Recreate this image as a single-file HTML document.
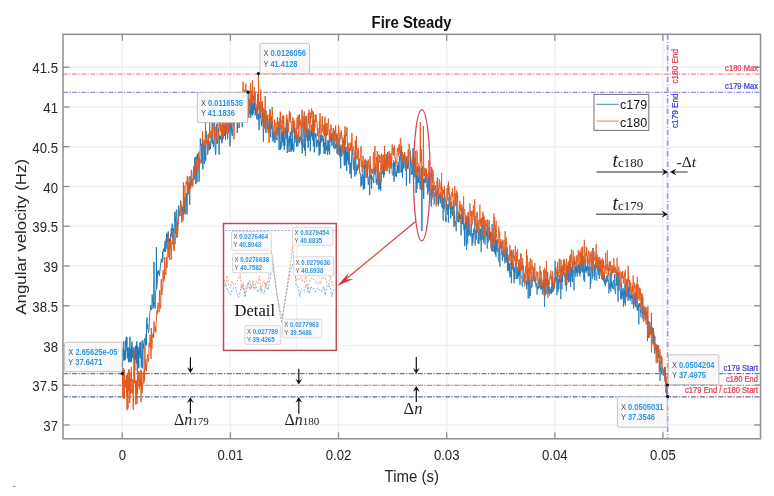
<!DOCTYPE html>
<html><head><meta charset="utf-8"><style>html,body{margin:0;padding:0;background:#fff;overflow:hidden}svg{display:block;filter:blur(0.4px)}</style></head><body>
<svg width="774" height="496" viewBox="0 0 774 496" font-family="Liberation Sans, sans-serif">
<rect width="774" height="496" fill="#fff"/>
<g stroke="#f0f0f0" stroke-width="1.4"><line x1="122.3" y1="34.3" x2="122.3" y2="438.8"/><line x1="230.4" y1="34.3" x2="230.4" y2="438.8"/><line x1="338.5" y1="34.3" x2="338.5" y2="438.8"/><line x1="446.7" y1="34.3" x2="446.7" y2="438.8"/><line x1="554.8" y1="34.3" x2="554.8" y2="438.8"/><line x1="662.9" y1="34.3" x2="662.9" y2="438.8"/><line x1="63.0" y1="425.0" x2="760.5" y2="425.0"/><line x1="63.0" y1="385.2" x2="760.5" y2="385.2"/><line x1="63.0" y1="345.5" x2="760.5" y2="345.5"/><line x1="63.0" y1="305.7" x2="760.5" y2="305.7"/><line x1="63.0" y1="266.0" x2="760.5" y2="266.0"/><line x1="63.0" y1="226.2" x2="760.5" y2="226.2"/><line x1="63.0" y1="186.5" x2="760.5" y2="186.5"/><line x1="63.0" y1="146.7" x2="760.5" y2="146.7"/><line x1="63.0" y1="107.0" x2="760.5" y2="107.0"/><line x1="63.0" y1="67.2" x2="760.5" y2="67.2"/></g>
<line x1="63.0" y1="74.1" x2="760.5" y2="74.1" stroke="#e0949a" stroke-width="1.25" stroke-dasharray="5 1.3 1.3 1.5"/>
<line x1="63.0" y1="92.4" x2="760.5" y2="92.4" stroke="#948cec" stroke-width="1.25" stroke-dasharray="5 1.3 1.3 1.5"/>
<line x1="63.0" y1="373.5" x2="760.5" y2="373.5" stroke="#6c6cb8" stroke-width="1.25" stroke-dasharray="5 1.3 1.3 1.5"/>
<line x1="63.0" y1="385.4" x2="760.5" y2="385.4" stroke="#d88c8c" stroke-width="1.25" stroke-dasharray="5 1.3 1.3 1.5"/>
<line x1="63.0" y1="396.8" x2="760.5" y2="396.8" stroke="#6464aa" stroke-width="1.25" stroke-dasharray="5 1.3 1.3 1.5"/>
<path d="M122.3 373.6L122.5 363.3 122.6 365.8 122.8 353.6 123.0 351.0 123.1 348.3 123.3 355.6 123.5 353.5 123.6 358.8 123.8 341.2 124.0 360.6 124.1 354.9 124.3 358.8 124.5 354.0 124.6 350.5 124.8 355.6 125.0 360.1 125.1 354.0 125.3 352.2 125.5 357.9 125.6 348.2 125.8 340.0 126.0 351.4 126.1 347.4 126.3 336.7 126.5 341.2 126.6 345.4 126.8 341.4 127.0 337.7 127.1 347.9 127.3 358.0 127.5 353.0 127.6 347.4 127.8 353.9 128.0 358.7 128.1 352.7 128.3 357.0 128.5 362.2 128.6 354.7 128.8 347.5 129.0 353.7 129.1 355.1 129.3 362.0 129.5 346.5 129.6 345.8 129.8 344.2 130.0 336.9 130.1 348.3 130.3 355.3 130.5 348.3 130.6 361.7 130.8 362.2 131.0 360.9 131.1 358.8 131.3 362.2 131.5 346.2 131.6 355.2 131.8 358.3 132.0 341.6 132.1 351.6 132.3 350.6 132.5 358.0 132.6 351.5 132.8 352.3 133.0 355.3 133.1 347.3 133.3 355.5 133.5 353.1 133.6 356.7 133.8 350.4 134.0 360.2 134.1 360.1 134.3 354.1 134.5 362.1 134.6 364.2 134.8 370.4 135.0 347.3 135.1 357.6 135.3 358.1 135.5 354.1 135.6 345.8 135.8 359.9 136.0 346.0 136.1 354.8 136.3 363.4 136.5 344.6 136.6 347.8 136.8 341.4 137.0 350.8 137.1 363.6 137.3 371.9 137.5 346.3 137.6 346.3 137.8 355.9 138.0 365.9 138.1 364.6 138.3 350.1 138.5 354.2 138.6 353.3 138.8 368.2 139.0 347.2 139.1 353.7 139.3 355.3 139.5 352.8 139.7 351.0 139.8 342.7 140.0 345.4 140.2 358.2 140.4 352.7 140.6 342.0 140.9 357.4 141.1 357.0 141.3 367.5 141.6 357.1 141.9 349.8 142.2 340.5 142.5 355.5 142.8 368.6 143.1 349.9 143.4 343.6 143.7 348.4 144.0 340.1 144.3 339.9 144.6 338.4 144.9 340.3 145.2 345.5 145.5 339.9 145.8 342.5 146.1 334.3 146.4 345.3 146.7 319.6 147.0 317.4 147.3 329.2 147.6 324.1 147.9 328.5 148.2 328.8 148.5 332.7 148.8 330.1 149.1 329.5 149.4 321.6 149.7 314.5 150.0 310.9 150.3 310.2 150.7 305.2 151.0 306.0 151.3 308.1 151.6 309.9 151.9 306.1 152.2 294.6 152.5 300.6 152.8 303.4 153.1 308.4 153.4 306.2 153.7 297.3 154.0 262.0 154.3 306.0 154.6 302.4 154.9 306.4 155.2 308.5 155.5 291.2 155.8 291.1 156.1 290.5 156.4 247.0 156.7 288.6 157.0 285.2 157.3 282.9 157.6 271.5 157.9 274.2 158.2 270.8 158.5 273.6 158.8 270.3 159.1 274.2 159.4 275.8 159.7 272.4 160.0 270.3 160.3 267.3 160.7 262.5 161.0 261.8 161.3 258.9 161.6 262.2 161.9 260.6 162.2 262.5 162.5 251.7 162.8 259.7 163.1 252.5 163.4 249.4 163.7 250.7 164.0 248.3 164.3 251.6 164.6 247.2 164.9 242.1 165.2 240.9 165.5 252.0 165.8 248.0 166.1 239.0 166.4 241.9 166.7 233.2 167.0 248.6 167.3 234.3 167.6 240.3 167.9 242.4 168.2 231.4 168.5 237.2 168.8 242.8 169.1 241.3 169.4 239.2 169.7 242.0 170.0 238.1 170.3 248.4 170.7 234.0 171.0 236.8 171.3 228.4 171.6 235.0 171.9 229.5 172.2 223.7 172.5 229.7 172.8 239.1 173.1 237.8 173.4 228.4 173.7 231.7 174.0 244.9 174.3 225.3 174.6 225.9 174.9 211.8 175.2 221.0 175.5 216.8 175.8 233.6 176.1 211.9 176.4 209.6 176.7 211.5 177.0 237.7 177.3 229.9 177.6 222.3 177.9 225.6 178.2 218.4 178.5 205.6 178.8 212.7 179.1 216.3 179.4 212.0 179.7 214.2 180.0 216.0 180.3 207.7 180.7 200.6 181.0 205.0 181.3 206.0 181.6 205.0 181.9 212.0 182.2 218.2 182.5 207.3 182.8 209.5 183.1 211.1 183.4 209.8 183.7 210.8 184.0 202.1 184.3 205.2 184.6 213.3 184.9 208.4 185.2 197.7 185.5 200.7 185.8 205.0 186.1 200.7 186.4 193.1 186.7 202.4 187.0 214.4 187.3 193.6 187.6 191.7 187.9 183.5 188.2 194.4 188.5 192.5 188.8 182.2 189.1 188.6 189.4 184.2 189.7 204.8 190.0 176.0 190.3 182.1 190.7 185.9 191.0 183.8 191.3 181.8 191.6 183.0 191.9 178.8 192.2 185.0 192.5 180.4 192.8 179.1 193.1 179.5 193.4 169.5 193.7 167.5 194.0 179.7 194.3 176.1 194.6 157.7 194.9 171.8 195.2 166.7 195.5 168.9 195.8 184.1 196.1 167.0 196.4 156.6 196.7 170.0 197.0 182.5 197.3 153.7 197.6 158.2 197.9 158.4 198.2 161.2 198.5 153.9 198.8 160.2 199.1 181.6 199.4 158.8 199.7 160.2 200.0 156.3 200.3 138.4 200.7 145.3 201.0 144.6 201.3 143.9 201.6 153.4 201.9 163.1 202.2 151.7 202.5 138.8 202.8 169.3 203.1 152.2 203.4 144.9 203.7 147.2 204.0 147.4 204.3 164.0 204.6 149.5 204.9 142.5 205.2 145.5 205.5 161.0 205.8 161.2 206.1 131.0 206.4 137.5 206.7 134.8 207.0 143.2 207.3 141.2 207.6 153.5 207.9 151.5 208.2 150.6 208.5 145.8 208.8 142.7 209.1 144.0 209.4 150.2 209.7 147.7 210.0 141.3 210.3 149.0 210.7 145.0 211.0 141.9 211.3 136.3 211.6 135.7 211.9 135.0 212.2 121.4 212.5 140.2 212.8 143.9 213.1 140.3 213.4 146.8 213.7 145.3 214.0 144.3 214.3 126.2 214.6 123.5 214.9 141.1 215.2 150.2 215.5 154.7 215.8 153.5 216.1 136.7 216.4 124.2 216.7 136.9 217.0 137.8 217.3 143.8 217.6 138.9 217.9 139.2 218.2 128.3 218.5 136.6 218.8 133.7 219.1 154.7 219.4 139.3 219.7 136.2 220.0 137.6 220.3 135.8 220.7 139.9 221.0 139.5 221.3 132.6 221.6 129.8 221.9 143.3 222.2 136.2 222.5 140.5 222.8 138.0 223.1 130.9 223.4 127.1 223.7 131.1 224.0 133.1 224.3 136.0 224.6 124.9 224.9 125.1 225.2 128.1 225.5 139.7 225.8 118.6 226.1 128.7 226.4 125.8 226.7 130.8 227.0 126.5 227.3 130.3 227.6 139.1 227.9 134.3 228.2 132.9 228.5 131.9 228.8 124.2 229.1 129.6 229.4 126.5 229.7 121.4 230.0 146.3 230.3 124.0 230.7 130.0 231.0 126.8 231.3 122.4 231.6 133.3 231.9 134.0 232.2 135.9 232.5 132.1 232.8 126.1 233.1 121.8 233.4 121.0 233.7 108.8 234.0 125.5 234.3 114.0 234.6 119.1 234.9 111.9 235.2 113.8 235.5 112.7 235.8 109.7 236.1 117.3 236.4 118.4 236.7 108.4 237.0 120.1 237.3 133.0 237.6 113.8 237.9 128.0 238.2 116.6 238.5 113.6 238.8 114.3 239.1 106.0 239.4 120.6 239.7 96.1 240.0 111.8 240.3 111.6 240.7 103.3 241.0 107.6 241.3 122.5 241.6 103.1 241.9 106.2 242.2 127.2 242.5 117.9 242.8 122.1 243.1 111.6 243.4 105.8 243.7 111.2 244.0 107.5 244.3 106.3 244.6 114.7 244.9 121.3 245.2 114.3 245.5 108.9 245.8 112.0 246.1 97.0 246.4 103.9 246.7 99.5 247.0 120.5 247.3 116.9 247.6 111.8 247.9 92.2 248.2 91.2 248.5 106.5 248.8 117.8 249.1 106.3 249.4 111.5 249.7 113.6 250.0 99.4 250.3 111.0 250.7 117.9 251.0 113.1 251.3 90.5 251.6 114.2 251.9 100.7 252.2 106.8 252.5 115.4 252.8 103.5 253.1 114.2 253.4 108.8 253.7 96.1 254.0 104.8 254.3 102.3 254.6 110.1 254.9 103.2 255.2 115.5 255.5 108.2 255.8 113.0 256.1 108.6 256.4 108.9 256.7 119.2 257.0 116.5 257.3 111.7 257.6 94.0 257.9 118.0 258.2 120.2 258.5 114.2 258.8 116.1 259.1 130.2 259.4 106.4 259.7 107.1 260.0 115.3 260.3 118.0 260.7 112.4 261.0 120.4 261.3 123.7 261.6 121.1 261.9 126.1 262.2 101.8 262.5 118.5 262.8 122.2 263.1 120.4 263.4 141.5 263.7 114.1 264.0 127.9 264.3 118.5 264.6 119.5 264.9 112.1 265.2 122.7 265.5 131.1 265.8 132.9 266.1 132.3 266.4 116.6 266.7 116.4 267.0 118.7 267.3 116.6 267.6 129.6 267.9 128.3 268.2 126.7 268.5 129.7 268.8 121.6 269.1 119.2 269.4 118.8 269.7 128.0 270.0 109.3 270.3 133.0 270.7 137.4 271.0 123.2 271.3 123.7 271.6 128.7 271.9 120.8 272.2 123.7 272.5 135.0 272.8 139.8 273.1 141.5 273.4 135.5 273.7 132.0 274.0 139.4 274.3 132.7 274.6 135.3 274.9 142.9 275.2 134.6 275.5 130.4 275.8 133.0 276.1 138.2 276.4 139.4 276.7 137.9 277.0 140.3 277.3 127.2 277.6 127.6 277.9 134.7 278.2 130.3 278.5 126.2 278.8 125.9 279.1 149.8 279.4 133.7 279.7 130.4 280.0 117.9 280.3 149.7 280.7 141.8 281.0 148.4 281.3 144.3 281.6 133.6 281.9 135.6 282.2 131.5 282.5 141.6 282.8 132.5 283.1 145.6 283.4 145.3 283.7 128.2 284.0 140.6 284.3 150.0 284.6 138.0 284.9 145.4 285.2 129.8 285.5 137.8 285.8 128.1 286.1 138.7 286.4 127.6 286.7 118.2 287.0 134.8 287.3 153.0 287.6 122.4 287.9 145.5 288.2 142.5 288.5 138.7 288.8 143.5 289.1 152.0 289.4 136.1 289.7 142.3 290.0 143.1 290.3 131.7 290.7 147.6 291.0 151.9 291.3 139.0 291.6 150.9 291.9 144.1 292.2 128.1 292.5 149.8 292.8 144.7 293.1 143.6 293.4 151.0 293.7 152.0 294.0 149.8 294.3 134.0 294.6 127.3 294.9 142.6 295.2 134.5 295.5 138.7 295.8 132.1 296.1 135.6 296.4 129.7 296.7 146.6 297.0 135.2 297.3 137.0 297.6 137.2 297.9 146.4 298.2 132.4 298.5 136.6 298.8 136.8 299.1 141.8 299.4 143.1 299.7 137.4 300.0 140.0 300.3 136.7 300.7 140.9 301.0 138.6 301.3 134.0 301.6 136.4 301.9 123.8 302.2 153.2 302.5 139.7 302.8 140.1 303.1 147.7 303.4 127.1 303.7 121.9 304.0 123.6 304.3 131.1 304.6 150.3 304.9 143.6 305.2 151.0 305.5 155.9 305.8 120.9 306.1 115.8 306.4 135.8 306.7 137.4 307.0 128.3 307.3 140.9 307.6 128.0 307.9 141.0 308.2 147.7 308.5 135.6 308.8 129.2 309.1 139.7 309.4 130.7 309.7 140.4 310.0 130.4 310.3 151.3 310.7 138.8 311.0 135.0 311.3 130.6 311.6 136.5 311.9 124.8 312.2 131.2 312.5 132.8 312.8 140.3 313.1 119.7 313.4 146.3 313.7 138.7 314.0 125.3 314.3 152.3 314.6 151.0 314.9 141.3 315.2 133.5 315.5 136.7 315.8 133.3 316.1 134.7 316.4 147.3 316.7 144.3 317.0 141.7 317.3 142.2 317.6 139.8 317.9 144.9 318.2 147.0 318.5 139.7 318.8 140.3 319.1 155.5 319.4 148.1 319.7 141.6 320.0 153.9 320.3 145.0 320.7 134.9 321.0 142.9 321.3 135.6 321.6 135.7 321.9 141.1 322.2 140.2 322.5 135.8 322.8 135.7 323.1 135.5 323.4 146.9 323.7 138.8 324.0 153.9 324.3 153.2 324.6 142.3 324.9 151.7 325.2 153.9 325.5 145.3 325.8 134.2 326.1 142.4 326.4 146.8 326.7 150.3 327.0 145.8 327.3 151.6 327.6 154.8 327.9 140.3 328.2 151.3 328.5 147.1 328.8 140.9 329.1 140.4 329.4 154.4 329.7 153.6 330.0 135.6 330.3 141.4 330.7 142.0 331.0 142.1 331.3 140.0 331.6 133.3 331.9 145.8 332.2 138.8 332.5 140.0 332.8 139.0 333.1 137.9 333.4 147.0 333.7 147.9 334.0 141.5 334.3 131.5 334.6 139.4 334.9 149.2 335.2 147.5 335.5 147.8 335.8 144.5 336.1 144.0 336.4 147.1 336.7 135.2 337.0 153.3 337.3 144.5 337.6 143.0 337.9 154.8 338.2 152.1 338.5 150.1 338.8 145.7 339.1 138.1 339.4 146.7 339.7 156.4 340.0 146.7 340.3 157.8 340.7 168.4 341.0 144.7 341.3 152.3 341.6 151.9 341.9 156.4 342.2 149.0 342.5 144.8 342.8 138.2 343.1 140.3 343.4 142.1 343.7 140.7 344.0 151.4 344.3 165.3 344.6 140.2 344.9 165.6 345.2 153.6 345.5 146.9 345.8 160.5 346.1 165.0 346.4 152.0 346.7 171.1 347.0 146.5 347.3 160.5 347.6 156.4 347.9 152.0 348.2 155.5 348.5 164.7 348.8 151.7 349.1 153.6 349.4 148.2 349.7 168.9 350.0 174.1 350.3 170.6 350.7 162.6 351.0 165.0 351.3 178.3 351.6 158.0 351.9 151.3 352.2 149.1 352.5 152.5 352.8 156.0 353.1 163.3 353.4 166.8 353.7 169.8 354.0 157.4 354.3 165.0 354.6 162.8 354.9 176.5 355.2 160.0 355.5 145.0 355.8 154.3 356.1 174.3 356.4 170.9 356.7 165.8 357.0 170.9 357.3 170.6 357.6 170.4 357.9 164.4 358.2 166.2 358.5 167.8 358.8 163.2 359.1 158.8 359.4 165.4 359.7 173.1 360.0 174.0 360.3 173.5 360.7 173.5 361.0 186.7 361.3 176.9 361.6 178.5 361.9 185.0 362.2 175.5 362.5 173.6 362.8 178.0 363.1 183.8 363.4 189.5 363.7 175.5 364.0 173.4 364.3 164.6 364.6 188.8 364.9 172.0 365.2 161.4 365.5 167.7 365.8 160.2 366.1 162.3 366.4 169.5 366.7 166.4 367.0 177.9 367.3 166.2 367.6 173.1 367.9 177.5 368.2 184.8 368.5 184.2 368.8 179.9 369.1 177.5 369.4 176.0 369.7 195.1 370.0 164.6 370.3 178.7 370.7 176.3 371.0 177.5 371.3 174.8 371.6 188.7 371.9 176.2 372.2 177.4 372.5 177.9 372.8 180.1 373.1 179.9 373.4 179.6 373.7 182.9 374.0 168.6 374.3 173.0 374.6 166.7 374.9 173.6 375.2 167.2 375.5 166.3 375.8 171.5 376.1 182.4 376.4 181.0 376.7 178.8 377.0 184.8 377.3 172.3 377.6 160.8 377.9 167.1 378.2 170.2 378.5 180.5 378.8 189.7 379.1 171.5 379.4 188.6 379.7 188.9 380.0 184.4 380.3 179.7 380.7 190.7 381.0 179.8 381.3 172.5 381.6 173.5 381.9 164.4 382.2 172.4 382.5 171.5 382.8 173.7 383.1 174.5 383.4 165.9 383.7 177.4 384.0 166.9 384.3 174.7 384.6 162.1 384.9 169.6 385.2 164.7 385.5 168.2 385.8 164.9 386.1 154.2 386.4 156.9 386.7 165.0 387.0 171.0 387.3 160.1 387.6 152.1 387.9 156.9 388.2 162.4 388.5 161.6 388.8 160.1 389.1 169.6 389.4 173.5 389.7 173.3 390.0 162.8 390.3 165.4 390.7 164.6 391.0 156.7 391.3 168.1 391.6 167.1 391.9 163.3 392.2 173.5 392.5 173.1 392.8 173.4 393.1 175.6 393.4 173.4 393.7 160.4 394.0 181.7 394.3 170.0 394.6 162.2 394.9 164.3 395.2 167.2 395.5 174.6 395.8 176.3 396.1 174.3 396.4 176.8 396.7 171.1 397.0 170.2 397.3 165.6 397.6 173.2 397.9 170.6 398.2 162.0 398.5 171.3 398.8 165.2 399.1 173.1 399.4 156.3 399.7 161.3 400.0 157.4 400.3 156.0 400.7 150.0 401.0 172.6 401.3 166.7 401.6 146.0 401.9 172.7 402.2 167.3 402.5 177.5 402.8 158.8 403.1 164.7 403.4 163.2 403.7 168.3 404.0 168.3 404.3 158.9 404.6 152.9 404.9 156.0 405.2 167.8 405.5 170.2 405.8 171.0 406.1 156.7 406.4 186.0 406.7 157.3 407.0 162.5 407.3 162.8 407.6 168.8 407.9 167.8 408.2 161.5 408.5 161.2 408.8 167.4 409.1 169.3 409.4 169.2 409.7 183.4 410.0 173.2 410.3 151.5 410.7 165.0 411.0 166.6 411.3 172.5 411.6 175.0 411.9 171.6 412.2 173.9 412.5 172.7 412.8 160.8 413.1 148.3 413.4 177.7 413.7 179.2 414.0 174.5 414.3 162.8 414.6 161.7 414.9 177.2 415.2 157.8 415.5 166.0 415.8 176.2 416.1 192.9 416.4 179.0 416.7 175.0 417.0 188.9 417.3 173.4 417.6 166.0 417.9 173.4 418.2 183.1 418.5 177.6 418.8 182.5 419.1 174.8 419.4 168.3 419.7 181.7 420.0 187.5 420.3 189.5 420.7 178.6 421.0 170.7 421.3 168.0 421.6 172.9 421.9 231.0 422.2 181.8 422.5 166.5 422.8 177.3 423.1 178.5 423.4 179.6 423.7 198.7 424.0 178.6 424.3 183.2 424.6 182.2 424.9 182.6 425.2 177.5 425.5 182.4 425.8 181.2 426.1 169.1 426.4 180.5 426.7 180.2 427.0 187.4 427.3 183.6 427.5 182.8 427.8 194.6 428.1 184.0 428.4 181.4 428.7 172.7 428.9 191.4 429.2 177.8 429.5 180.5 429.8 187.6 430.0 188.6 430.3 190.4 430.6 192.5 430.8 196.4 431.1 204.3 431.4 206.5 431.6 188.5 431.9 189.8 432.1 187.0" fill="none" stroke="#1f77b8" stroke-width="0.95" stroke-linejoin="round"/><path d="M432.1 187.0L432.4 185.2 432.6 189.7 432.9 197.5 433.1 188.9 433.4 185.8 433.6 193.5 433.9 195.3 434.1 204.6 434.4 202.5 434.6 197.3 434.9 192.4 435.1 194.1 435.3 192.6 435.6 185.3 435.8 191.1 436.1 192.2 436.3 192.5 436.5 191.7 436.8 204.2 437.0 202.8 437.2 204.0 437.4 177.4 437.7 190.3 437.9 193.1 438.1 197.4 438.4 206.2 438.6 196.1 438.8 203.3 439.0 202.1 439.2 194.3 439.5 195.1 439.7 194.2 439.9 199.1 440.1 192.9 440.3 196.7 440.6 203.3 440.8 201.8 441.0 195.8 441.2 195.6 441.4 200.0 441.6 203.8 441.9 207.3 442.1 202.8 442.3 194.5 442.5 207.8 442.7 206.0 442.9 206.1 443.2 220.5 443.4 197.7 443.6 199.2 443.8 203.3 444.0 209.4 444.3 205.9 444.5 186.1 444.7 196.2 444.9 203.4 445.1 211.5 445.3 211.0 445.6 221.4 445.8 218.9 446.0 217.7 446.2 221.7 446.4 200.5 446.6 208.7 446.9 210.2 447.1 204.2 447.3 208.8 447.5 209.5 447.7 214.8 447.9 205.1 448.2 204.6 448.4 222.7 448.6 204.6 448.8 209.5 449.0 196.8 449.3 202.1 449.5 195.9 449.7 200.8 449.9 208.5 450.1 208.5 450.3 208.0 450.6 209.1 450.8 218.4 451.0 206.3 451.2 213.9 451.4 202.7 451.6 205.1 451.9 209.9 452.1 205.8 452.3 210.8 452.5 215.8 452.7 206.5 452.9 210.0 453.2 209.7 453.4 200.7 453.6 208.0 453.8 207.2 454.0 219.6 454.3 211.2 454.5 223.5 454.7 215.0 454.9 226.7 455.1 222.8 455.3 221.1 455.6 222.8 455.8 224.2 456.0 227.8 456.2 231.2 456.4 220.5 456.6 211.7 456.9 200.5 457.1 210.2 457.3 220.4 457.5 222.0 457.7 221.2 457.9 218.5 458.2 216.0 458.4 217.4 458.6 222.1 458.8 211.4 459.0 222.3 459.3 213.7 459.5 218.4 459.7 217.5 459.9 219.0 460.1 215.6 460.3 214.0 460.6 218.8 460.8 215.7 461.0 235.3 461.2 225.5 461.4 220.9 461.6 219.9 461.9 216.7 462.1 207.7 462.3 217.4 462.5 224.2 462.7 216.1 462.9 222.2 463.2 217.4 463.4 222.6 463.6 226.8 463.8 229.2 464.0 229.8 464.3 223.5 464.5 244.4 464.7 225.5 464.9 246.2 465.1 231.7 465.3 227.1 465.6 219.9 465.8 228.5 466.0 221.6 466.2 220.6 466.4 219.1 466.6 250.0 466.9 228.1 467.1 215.5 467.3 228.4 467.5 240.8 467.7 243.6 467.9 231.1 468.2 218.4 468.4 232.9 468.6 236.1 468.8 216.3 469.0 224.7 469.3 232.8 469.5 234.9 469.7 224.5 469.9 226.6 470.1 231.0 470.3 231.0 470.6 234.1 470.8 236.8 471.0 236.3 471.2 232.4 471.4 224.0 471.6 232.4 471.9 239.9 472.1 245.9 472.3 236.5 472.5 233.3 472.7 240.7 472.9 243.3 473.2 237.9 473.4 238.2 473.6 229.9 473.8 234.8 474.0 228.5 474.3 230.2 474.5 231.0 474.7 229.3 474.9 219.4 475.1 245.7 475.3 231.4 475.6 232.0 475.8 230.3 476.0 234.5 476.2 237.5 476.4 239.6 476.6 230.8 476.9 232.6 477.1 231.2 477.3 227.6 477.5 222.9 477.7 229.3 477.9 227.1 478.2 243.8 478.4 236.7 478.6 233.6 478.8 231.6 479.0 243.9 479.3 232.2 479.5 232.6 479.7 229.3 479.9 231.9 480.1 233.3 480.3 240.4 480.6 228.5 480.8 232.4 481.0 243.1 481.2 252.1 481.4 233.8 481.6 229.5 481.9 218.2 482.1 228.6 482.3 239.6 482.5 234.1 482.7 224.4 482.9 233.1 483.2 235.1 483.4 241.1 483.6 242.7 483.8 236.6 484.0 238.3 484.3 226.5 484.5 238.9 484.7 238.1 484.9 242.9 485.1 244.6 485.3 237.7 485.6 236.2 485.8 231.6 486.0 223.4 486.2 231.6 486.4 236.3 486.6 231.0 486.9 239.4 487.1 239.1 487.3 248.6 487.5 234.9 487.7 227.3 487.9 239.1 488.2 242.5 488.4 239.7 488.6 237.1 488.8 237.1 489.0 238.0 489.3 236.4 489.5 227.4 489.7 240.2 489.9 231.9 490.1 235.7 490.3 237.3 490.6 241.2 490.8 232.1 491.0 245.0 491.2 246.5 491.4 247.8 491.6 251.2 491.9 240.9 492.1 224.1 492.3 238.0 492.5 248.6 492.7 251.5 492.9 243.1 493.2 242.8 493.4 244.9 493.6 234.0 493.8 236.7 494.0 238.0 494.3 251.1 494.5 243.2 494.7 253.1 494.9 247.9 495.1 236.7 495.3 254.9 495.6 243.5 495.8 248.7 496.0 256.8 496.2 247.1 496.4 240.0 496.6 250.5 496.9 248.8 497.1 241.1 497.3 239.4 497.5 242.9 497.7 251.9 497.9 248.2 498.2 252.4 498.4 259.6 498.6 260.2 498.8 261.5 499.0 260.9 499.3 244.9 499.5 255.4 499.7 254.2 499.9 266.6 500.1 245.3 500.3 240.4 500.6 241.6 500.8 248.3 501.0 244.3 501.2 245.1 501.4 246.7 501.6 254.6 501.9 252.1 502.1 252.3 502.3 260.8 502.5 254.7 502.7 257.9 502.9 249.9 503.2 255.0 503.4 255.8 503.6 256.6 503.8 253.4 504.0 249.3 504.3 252.1 504.5 252.4 504.7 261.0 504.9 263.5 505.1 252.7 505.3 259.4 505.6 255.7 505.8 259.8 506.0 256.2 506.2 249.5 506.4 261.3 506.6 262.4 506.9 253.6 507.1 246.9 507.3 252.4 507.5 271.1 507.7 255.0 507.9 262.2 508.2 269.6 508.4 262.1 508.6 269.4 508.8 270.9 509.0 262.7 509.3 272.8 509.5 264.0 509.7 266.6 509.9 277.4 510.1 276.2 510.3 272.3 510.6 276.2 510.8 262.5 511.0 264.8 511.2 263.2 511.4 283.2 511.6 271.4 511.9 250.5 512.1 268.0 512.3 261.6 512.5 268.9 512.7 264.7 512.9 267.4 513.2 270.7 513.4 269.6 513.6 263.0 513.8 273.9 514.0 283.4 514.3 269.7 514.5 272.9 514.7 267.3 514.9 279.0 515.1 274.0 515.3 273.1 515.6 272.9 515.8 265.9 516.0 262.2 516.2 268.7 516.4 271.8 516.6 278.6 516.9 276.1 517.1 266.8 517.3 272.7 517.5 276.5 517.7 279.0 517.9 276.2 518.2 266.8 518.4 276.8 518.6 270.0 518.8 274.9 519.0 264.9 519.3 274.5 519.5 269.4 519.7 278.0 519.9 285.0 520.1 284.2 520.3 271.2 520.6 268.0 520.8 267.4 521.0 275.8 521.2 277.1 521.4 276.6 521.6 277.4 521.9 279.3 522.1 280.5 522.3 286.8 522.5 279.5 522.7 278.5 522.9 266.9 523.2 265.9 523.4 269.1 523.6 267.7 523.8 275.1 524.0 282.3 524.3 276.8 524.5 274.7 524.7 274.0 524.9 277.4 525.1 274.9 525.3 279.5 525.6 280.5 525.8 281.1 526.0 283.8 526.2 280.7 526.4 280.4 526.6 289.2 526.9 282.5 527.1 284.8 527.3 281.6 527.5 277.8 527.7 276.5 527.9 274.2 528.2 298.7 528.4 276.0 528.6 276.4 528.8 285.7 529.0 281.6 529.3 287.2 529.5 297.9 529.7 286.9 529.9 279.7 530.1 281.4 530.3 295.8 530.6 290.9 530.8 290.3 531.0 285.9 531.2 287.9 531.4 277.6 531.6 275.8 531.9 282.3 532.1 286.8 532.3 281.7 532.5 281.2 532.7 280.2 532.9 280.8 533.2 275.6 533.4 272.6 533.6 279.0 533.8 272.3 534.0 274.2 534.3 276.6 534.5 275.4 534.7 282.2 534.9 280.8 535.1 282.5 535.3 278.1 535.6 278.1 535.8 285.1 536.0 286.8 536.2 283.0 536.4 286.3 536.6 286.6 536.9 286.7 537.1 294.6 537.3 286.6 537.5 288.4 537.7 289.2 537.9 286.0 538.2 279.9 538.4 288.0 538.6 288.6 538.8 287.7 539.0 287.4 539.3 287.4 539.5 282.5 539.7 287.4 539.9 277.8 540.1 284.1 540.3 278.2 540.6 282.3 540.8 289.6 541.0 286.8 541.2 284.5 541.4 289.1 541.6 286.4 541.9 284.7 542.1 284.2 542.3 294.3 542.5 293.2 542.7 291.8 542.9 282.2 543.2 288.6 543.4 280.5 543.6 287.2 543.8 280.9 544.0 295.2 544.3 280.5 544.5 307.0 544.7 292.5 544.9 279.0 545.1 282.5 545.3 292.9 545.6 294.8 545.8 280.3 546.0 281.4 546.2 278.2 546.4 277.8 546.6 279.8 546.9 293.8 547.1 289.5 547.3 286.0 547.5 284.2 547.7 271.9 547.9 290.6 548.2 282.5 548.4 292.6 548.6 282.3 548.8 283.0 549.0 287.1 549.3 295.4 549.5 287.1 549.7 287.6 549.9 293.2 550.1 291.5 550.3 293.4 550.6 293.6 550.8 289.4 551.0 289.8 551.2 291.4 551.4 286.8 551.6 293.8 551.9 276.9 552.1 276.7 552.3 292.5 552.5 288.0 552.7 281.8 552.9 285.0 553.2 289.9 553.4 282.6 553.6 287.1 553.8 283.9 554.0 282.7 554.3 282.4 554.5 288.6 554.7 278.7 554.9 279.2 555.1 260.9 555.3 276.6 555.6 271.7 555.8 281.4 556.0 281.7 556.2 280.9 556.4 282.1 556.6 276.4 556.9 295.2 557.1 280.8 557.3 278.6 557.5 272.5 557.7 275.6 557.9 292.2 558.2 282.9 558.4 284.4 558.6 279.1 558.8 289.5 559.0 284.2 559.3 274.7 559.5 282.1 559.7 278.5 559.9 282.4 560.1 281.1 560.3 281.3 560.6 280.6 560.8 299.0 561.0 269.4 561.2 280.6 561.4 278.6 561.6 280.0 561.9 289.4 562.1 266.8 562.3 267.3 562.5 281.6 562.7 274.9 562.9 274.6 563.2 268.7 563.4 271.5 563.6 273.3 563.8 274.6 564.0 275.7 564.3 273.1 564.5 272.4 564.7 275.0 564.9 277.7 565.1 276.0 565.3 285.4 565.6 280.4 565.8 278.3 566.0 273.2 566.2 280.2 566.4 291.1 566.6 265.5 566.9 266.7 567.1 275.4 567.3 269.1 567.5 279.7 567.7 276.3 567.9 267.2 568.2 270.7 568.4 282.5 568.6 272.5 568.8 266.6 569.0 274.1 569.3 280.8 569.5 281.5 569.7 262.4 569.9 274.8 570.1 275.6 570.3 280.3 570.6 287.0 570.8 256.6 571.0 281.4 571.2 274.0 571.4 276.3 571.6 269.1 571.9 267.3 572.1 272.9 572.3 267.9 572.5 281.8 572.7 264.2 572.9 272.0 573.2 271.6 573.4 270.1 573.6 272.0 573.8 277.6 574.0 290.2 574.3 271.9 574.5 273.3 574.7 271.2 574.9 266.5 575.1 271.2 575.3 266.6 575.6 269.1 575.8 276.9 576.0 262.4 576.2 269.2 576.4 272.6 576.6 266.3 576.9 271.9 577.1 272.9 577.3 269.5 577.5 276.4 577.7 265.6 577.9 272.0 578.2 269.5 578.4 264.3 578.6 267.0 578.8 267.0 579.0 273.1 579.3 263.0 579.5 266.3 579.7 266.0 579.9 276.5 580.1 266.0 580.3 273.7 580.6 261.7 580.8 268.4 581.0 268.3 581.2 270.9 581.4 266.1 581.6 257.9 581.9 257.1 582.1 271.8 582.3 255.5 582.5 265.3 582.7 272.5 582.9 266.3 583.2 264.2 583.4 261.0 583.6 272.3 583.8 280.4 584.0 267.9 584.3 270.0 584.5 274.4 584.7 281.8 584.9 260.8 585.1 266.7 585.3 271.4 585.6 261.9 585.8 268.4 586.0 269.6 586.2 272.7 586.4 267.0 586.6 270.2 586.9 266.0 587.1 270.8 587.3 270.1 587.5 267.1 587.7 260.6 587.9 274.3 588.2 276.2 588.4 275.7 588.6 267.5 588.8 266.2 589.0 276.3 589.3 275.0 589.5 266.2 589.7 267.8 589.9 268.8 590.1 267.4 590.3 288.9 590.6 273.1 590.8 283.6 591.0 269.2 591.2 260.7 591.4 262.9 591.6 266.7 591.9 272.6 592.1 268.3 592.3 279.1 592.5 271.7 592.7 266.2 592.9 248.0 593.2 257.8 593.4 257.6 593.6 264.5 593.8 269.5 594.0 276.8 594.3 272.1 594.5 264.6 594.7 280.2 594.9 275.1 595.1 270.4 595.3 268.9 595.6 262.9 595.8 271.1 596.0 272.7 596.2 279.7 596.4 279.7 596.6 280.8 596.9 280.3 597.1 273.0 597.3 269.8 597.5 270.7 597.7 265.0 597.9 268.8 598.2 269.3 598.4 274.7 598.6 273.1 598.8 262.9 599.0 269.4 599.3 279.0 599.5 265.6 599.7 266.6 599.9 271.1 600.1 265.8 600.3 268.0 600.6 272.0 600.8 266.5 601.0 272.9 601.2 275.9 601.4 268.4 601.6 272.5 601.9 279.4 602.1 275.5 602.3 277.4 602.5 279.2 602.7 275.4 602.9 280.4 603.2 279.2 603.4 271.8 603.6 277.1 603.8 280.8 604.0 281.9 604.3 274.9 604.5 278.3 604.7 284.2 604.9 280.5 605.1 284.2 605.3 286.2 605.6 280.2 605.8 281.7 606.0 277.5 606.2 283.1 606.4 279.2 606.6 275.6 606.9 277.1 607.1 277.5 607.3 280.1 607.5 281.5 607.7 273.8 607.9 273.8 608.2 279.1 608.4 281.7 608.6 280.6 608.8 293.4 609.0 290.2 609.3 283.1 609.5 284.9 609.7 288.7 609.9 285.2 610.1 273.3 610.3 278.6 610.6 280.4 610.8 291.6 611.0 275.5 611.2 269.2 611.4 282.7 611.6 286.8 611.9 282.1 612.1 283.0 612.3 288.2 612.5 284.8 612.7 288.7 612.9 284.4 613.2 281.3 613.4 281.3 613.6 280.0 613.8 281.5 614.0 289.7 614.3 279.8 614.5 274.0 614.7 280.4 614.9 291.3 615.1 292.0 615.3 293.7 615.6 294.0 615.8 284.3 616.0 285.2 616.2 271.6 616.4 277.3 616.6 285.5 616.9 277.6 617.1 272.3 617.3 274.4 617.5 282.9 617.7 290.7 617.9 300.7 618.2 301.7 618.4 282.9 618.6 273.6 618.8 282.8 619.0 290.7 619.3 280.1 619.5 282.0 619.7 283.1 619.9 286.0 620.1 286.1 620.3 289.7 620.6 298.9 620.8 290.3 621.0 292.6 621.2 299.7 621.4 287.2 621.6 282.8 621.9 289.2 622.1 298.2 622.3 293.0 622.5 295.9 622.7 290.0 622.9 294.2 623.2 288.0 623.4 306.7 623.6 292.7 623.8 292.9 624.0 297.9 624.3 303.2 624.5 290.2 624.7 294.8 624.9 283.7 625.1 293.3 625.3 305.6 625.6 299.0 625.8 296.7 626.0 293.9 626.2 296.9 626.4 291.7 626.6 295.6 626.9 292.4 627.1 290.7 627.3 293.0 627.5 293.0 627.7 284.9 627.9 301.1 628.2 297.3 628.4 287.0 628.6 297.3 628.8 295.6 629.0 296.3 629.3 299.2 629.5 292.4 629.7 280.0 629.9 289.9 630.1 295.2 630.3 300.9 630.6 294.4 630.8 294.7 631.0 298.2 631.2 296.0 631.4 295.8 631.6 298.3 631.9 293.1 632.1 304.2 632.3 295.9 632.5 297.8 632.7 296.8 632.9 294.8 633.2 300.3 633.4 304.7 633.6 308.6 633.8 305.8 634.0 299.9 634.3 304.4 634.5 294.8 634.7 298.9 634.9 302.8 635.1 304.5 635.3 296.9 635.6 292.8 635.8 307.0 636.0 301.5 636.2 294.2 636.4 293.8 636.6 300.0 636.9 308.1 637.1 305.3 637.3 310.4 637.5 307.7 637.7 308.1 637.9 310.9 638.2 305.4 638.4 307.0 638.6 304.4 638.8 324.4 639.0 308.3 639.3 303.3 639.5 306.2 639.7 303.1 639.9 305.6 640.1 304.6 640.3 312.3 640.6 310.2 640.8 309.7 641.0 317.3 641.2 298.1 641.4 300.2 641.6 293.2 641.9 304.2 642.1 310.4 642.3 313.8 642.5 313.3 642.7 307.8 642.9 318.8 643.2 315.8 643.4 312.2 643.6 307.0 643.8 312.8 644.0 310.6 644.3 310.3 644.5 313.5 644.7 314.9 644.9 310.5 645.1 319.4 645.3 312.1 645.6 309.4 645.8 307.5 646.0 317.6 646.2 318.4 646.4 316.7 646.6 318.8 646.9 317.0 647.1 311.6 647.3 321.6 647.5 341.1 647.7 319.7 647.9 325.7 648.2 324.8 648.4 338.0 648.6 323.1 648.8 321.5 649.0 325.4 649.3 333.3 649.5 328.7 649.7 321.9 649.9 332.3 650.1 326.4 650.3 328.3 650.6 334.6 650.8 329.7 651.0 329.5 651.2 334.4 651.4 313.0 651.6 335.5 651.9 330.9 652.1 333.7 652.3 330.4 652.5 327.5 652.7 342.7 652.9 342.2 653.2 344.7 653.4 328.2 653.6 339.2 653.8 339.6 654.0 334.3 654.3 342.3 654.5 354.0 654.7 341.4 654.9 336.3 655.1 346.9 655.3 349.9 655.6 349.6 655.8 343.8 656.0 344.0 656.2 352.8 656.4 349.3 656.6 351.0 656.9 351.5 657.1 346.1 657.3 357.2 657.5 344.9 657.7 351.5 657.9 352.8 658.2 346.4 658.4 353.9 658.6 357.8 658.8 357.4 659.0 353.6 659.3 358.7 659.5 364.1 659.7 362.2 659.9 369.1 660.1 380.8 660.3 367.4 660.6 370.7 660.8 362.5 661.0 360.8 661.2 365.5 661.4 367.6 661.6 373.5 661.9 374.3 662.1 370.5 662.3 370.2 662.5 368.4 662.7 368.0 662.9 368.1 663.2 375.2 663.4 371.9 663.6 371.9 663.8 375.0 664.0 373.6 664.3 375.1 664.5 367.1 664.7 377.0 664.9 377.9 665.1 381.3 665.3 368.3 665.6 375.1 665.8 392.7 666.0 389.0 666.2 388.5 666.4 379.8 666.6 388.7 666.9 402.4 667.1 389.7 667.3 392.5 667.5 396.6" fill="none" stroke="#1f77b8" stroke-width="0.8" stroke-linejoin="round"/>
<path d="M122.3 396.6L122.5 390.5 122.6 387.7 122.8 367.7 123.0 383.9 123.1 368.0 123.3 388.0 123.5 398.7 123.6 395.9 123.8 397.1 124.0 393.1 124.1 384.6 124.3 369.7 124.5 398.5 124.6 386.1 124.8 384.8 125.0 380.1 125.1 380.2 125.3 382.0 125.5 387.4 125.6 384.7 125.8 383.2 126.0 380.5 126.1 385.5 126.3 375.1 126.5 383.3 126.6 396.7 126.8 378.8 127.0 407.7 127.1 410.2 127.3 386.8 127.5 373.3 127.6 378.6 127.8 399.3 128.0 408.5 128.1 384.3 128.3 390.8 128.5 388.4 128.6 382.5 128.8 369.0 129.0 389.3 129.1 380.6 129.3 387.3 129.5 370.8 129.6 403.0 129.8 402.5 130.0 382.7 130.1 383.3 130.3 394.4 130.5 378.4 130.6 380.7 130.8 378.2 131.0 373.3 131.1 376.2 131.3 367.3 131.5 382.5 131.6 380.7 131.8 392.6 132.0 389.9 132.1 392.8 132.3 388.3 132.5 393.8 132.6 388.5 132.8 379.2 133.0 394.3 133.1 397.8 133.3 409.9 133.5 393.8 133.6 384.5 133.8 373.9 134.0 349.9 134.1 363.0 134.3 382.7 134.5 378.0 134.6 362.0 134.8 383.4 135.0 380.7 135.1 381.8 135.3 381.5 135.5 384.0 135.6 389.9 135.8 404.6 136.0 380.3 136.1 380.4 136.3 394.3 136.5 380.8 136.6 398.6 136.8 396.2 137.0 403.9 137.1 387.0 137.3 393.8 137.5 392.4 137.6 376.3 137.8 381.0 138.0 371.2 138.1 376.8 138.3 377.0 138.5 371.6 138.6 377.8 138.8 386.5 139.0 380.5 139.1 371.6 139.3 389.3 139.5 383.6 139.7 384.5 139.8 382.3 140.0 378.8 140.2 386.1 140.4 379.4 140.6 380.9 140.9 369.7 141.1 402.1 141.3 371.0 141.6 390.1 141.9 383.2 142.2 393.0 142.5 384.8 142.8 381.4 143.1 371.9 143.4 371.8 143.7 383.5 144.0 382.5 144.3 369.0 144.6 380.6 144.9 345.8 145.2 364.7 145.5 369.9 145.8 359.0 146.1 364.4 146.4 371.3 146.7 368.4 147.0 362.8 147.3 359.4 147.6 355.9 147.9 354.3 148.2 360.6 148.5 361.9 148.8 356.7 149.1 343.7 149.4 343.0 149.7 347.1 150.0 334.9 150.3 336.3 150.7 344.7 151.0 358.8 151.3 328.0 151.6 339.8 151.9 348.8 152.2 338.7 152.5 334.5 152.8 335.8 153.1 338.0 153.4 332.1 153.7 337.6 154.0 321.5 154.3 330.5 154.6 331.2 154.9 327.6 155.2 328.8 155.5 326.5 155.8 332.5 156.1 323.3 156.4 321.9 156.7 312.8 157.0 310.4 157.3 314.0 157.6 306.6 157.9 306.7 158.2 302.7 158.5 304.8 158.8 307.7 159.1 312.2 159.4 296.1 159.7 290.3 160.0 304.7 160.3 308.3 160.7 308.4 161.0 291.1 161.3 279.3 161.6 292.9 161.9 295.1 162.2 290.9 162.5 288.0 162.8 285.5 163.1 270.2 163.4 278.8 163.7 281.6 164.0 274.8 164.3 279.6 164.6 257.2 164.9 262.3 165.2 274.3 165.5 272.5 165.8 275.0 166.1 267.9 166.4 257.4 166.7 256.9 167.0 267.8 167.3 251.9 167.6 250.9 167.9 245.6 168.2 235.7 168.5 251.5 168.8 257.3 169.1 250.7 169.4 241.7 169.7 259.9 170.0 252.0 170.3 245.7 170.7 240.0 171.0 246.8 171.3 259.4 171.6 250.9 171.9 242.4 172.2 244.4 172.5 242.0 172.8 238.3 173.1 230.8 173.4 238.2 173.7 249.2 174.0 251.0 174.3 249.6 174.6 244.0 174.9 242.3 175.2 243.9 175.5 237.3 175.8 236.0 176.1 230.6 176.4 236.6 176.7 225.7 177.0 230.3 177.3 232.0 177.6 231.6 177.9 230.2 178.2 222.1 178.5 218.0 178.8 216.7 179.1 215.8 179.4 210.4 179.7 211.8 180.0 210.4 180.3 207.4 180.7 203.5 181.0 208.2 181.3 211.5 181.6 219.2 181.9 222.5 182.2 213.1 182.5 215.0 182.8 210.5 183.1 220.8 183.4 182.4 183.7 215.0 184.0 185.2 184.3 200.6 184.6 203.0 184.9 200.0 185.2 197.1 185.5 214.3 185.8 190.4 186.1 181.6 186.4 183.8 186.7 183.2 187.0 184.8 187.3 175.8 187.6 187.9 187.9 177.2 188.2 193.8 188.5 192.6 188.8 184.1 189.1 187.7 189.4 193.8 189.7 193.0 190.0 186.4 190.3 187.7 190.7 189.1 191.0 176.4 191.3 169.9 191.6 172.0 191.9 181.6 192.2 187.3 192.5 180.6 192.8 185.8 193.1 183.9 193.4 176.2 193.7 168.7 194.0 166.1 194.3 168.9 194.6 177.2 194.9 176.1 195.2 162.0 195.5 156.9 195.8 167.1 196.1 166.5 196.4 158.9 196.7 165.7 197.0 171.8 197.3 170.0 197.6 164.7 197.9 169.9 198.2 160.8 198.5 155.9 198.8 151.7 199.1 167.0 199.4 173.3 199.7 161.8 200.0 161.2 200.3 159.7 200.7 161.7 201.0 163.5 201.3 160.6 201.6 154.3 201.9 149.1 202.2 143.7 202.5 131.5 202.8 142.3 203.1 141.1 203.4 145.5 203.7 145.7 204.0 139.5 204.3 140.1 204.6 145.4 204.9 145.2 205.2 138.1 205.5 121.5 205.8 142.9 206.1 142.7 206.4 142.6 206.7 139.1 207.0 143.5 207.3 140.9 207.6 155.0 207.9 141.0 208.2 134.5 208.5 146.8 208.8 140.1 209.1 133.2 209.4 138.2 209.7 122.5 210.0 134.2 210.3 135.5 210.7 137.3 211.0 131.0 211.3 142.0 211.6 139.4 211.9 136.2 212.2 137.3 212.5 130.0 212.8 131.7 213.1 123.4 213.4 122.9 213.7 120.0 214.0 133.1 214.3 137.5 214.6 129.9 214.9 130.6 215.2 127.0 215.5 131.7 215.8 136.6 216.1 140.1 216.4 138.0 216.7 143.5 217.0 131.4 217.3 124.3 217.6 116.1 217.9 126.5 218.2 129.5 218.5 134.7 218.8 136.9 219.1 124.3 219.4 121.9 219.7 126.8 220.0 128.9 220.3 131.7 220.7 121.5 221.0 124.6 221.3 131.4 221.6 141.8 221.9 124.9 222.2 137.6 222.5 129.5 222.8 119.0 223.1 133.3 223.4 138.8 223.7 118.1 224.0 128.7 224.3 134.4 224.6 130.0 224.9 123.1 225.2 115.5 225.5 106.4 225.8 109.5 226.1 110.4 226.4 127.0 226.7 129.8 227.0 134.6 227.3 130.7 227.6 118.9 227.9 125.2 228.2 112.2 228.5 124.0 228.8 132.4 229.1 119.5 229.4 128.2 229.7 124.5 230.0 121.7 230.3 108.5 230.7 115.8 231.0 125.0 231.3 110.8 231.6 113.9 231.9 113.3 232.2 104.7 232.5 122.1 232.8 120.5 233.1 119.9 233.4 125.8 233.7 116.0 234.0 139.4 234.3 122.4 234.6 111.6 234.9 106.3 235.2 120.5 235.5 111.4 235.8 108.2 236.1 118.5 236.4 118.1 236.7 118.5 237.0 121.4 237.3 112.1 237.6 121.1 237.9 115.6 238.2 118.0 238.5 107.4 238.8 114.7 239.1 113.7 239.4 128.0 239.7 114.7 240.0 121.2 240.3 117.1 240.7 121.7 241.0 113.8 241.3 112.4 241.6 93.1 241.9 92.4 242.2 107.7 242.5 108.5 242.8 110.8 243.1 82.0 243.4 108.7 243.7 102.1 244.0 101.4 244.3 109.7 244.6 111.3 244.9 89.4 245.2 100.7 245.5 101.9 245.8 83.7 246.1 99.0 246.4 92.9 246.7 101.1 247.0 92.7 247.3 90.3 247.6 104.9 247.9 113.9 248.2 117.1 248.5 107.7 248.8 98.1 249.1 103.7 249.4 111.2 249.7 103.7 250.0 97.4 250.3 86.6 250.7 82.9 251.0 105.6 251.3 91.4 251.6 92.2 251.9 95.2 252.2 100.3 252.5 80.0 252.8 101.5 253.1 105.3 253.4 103.2 253.7 97.8 254.0 97.8 254.3 87.1 254.6 101.4 254.9 98.5 255.2 91.7 255.5 98.8 255.8 105.2 256.1 106.6 256.4 109.2 256.7 114.0 257.0 104.0 257.3 105.7 257.6 106.9 257.9 95.5 258.2 109.6 258.5 73.6 258.8 107.5 259.1 109.1 259.4 102.1 259.7 111.4 260.0 116.0 260.3 112.2 260.7 89.7 261.0 111.9 261.3 109.4 261.6 105.3 261.9 104.6 262.2 101.1 262.5 105.2 262.8 113.8 263.1 122.0 263.4 111.4 263.7 108.3 264.0 129.0 264.3 109.9 264.6 114.9 264.9 121.9 265.2 96.0 265.5 122.5 265.8 128.7 266.1 110.6 266.4 120.2 266.7 116.2 267.0 115.9 267.3 124.2 267.6 118.9 267.9 114.6 268.2 133.2 268.5 129.7 268.8 130.3 269.1 142.7 269.4 121.9 269.7 131.5 270.0 116.6 270.3 112.2 270.7 121.4 271.0 117.9 271.3 116.7 271.6 120.6 271.9 116.1 272.2 107.1 272.5 112.4 272.8 124.3 273.1 125.3 273.4 130.6 273.7 137.8 274.0 134.8 274.3 127.2 274.6 119.8 274.9 125.8 275.2 136.0 275.5 138.3 275.8 135.8 276.1 122.8 276.4 128.1 276.7 130.9 277.0 135.6 277.3 119.8 277.6 117.0 277.9 123.8 278.2 125.7 278.5 121.3 278.8 127.6 279.1 124.3 279.4 133.1 279.7 125.0 280.0 127.1 280.3 111.7 280.7 122.4 281.0 120.1 281.3 128.9 281.6 125.8 281.9 134.6 282.2 125.3 282.5 115.7 282.8 124.1 283.1 129.4 283.4 122.0 283.7 115.5 284.0 127.6 284.3 134.0 284.6 133.9 284.9 129.4 285.2 127.2 285.5 137.9 285.8 135.8 286.1 123.1 286.4 117.5 286.7 114.6 287.0 115.1 287.3 123.7 287.6 119.9 287.9 130.7 288.2 125.4 288.5 131.7 288.8 120.3 289.1 117.1 289.4 110.9 289.7 120.5 290.0 121.3 290.3 112.6 290.7 122.4 291.0 121.0 291.3 122.6 291.6 134.5 291.9 135.7 292.2 132.7 292.5 125.9 292.8 117.5 293.1 118.2 293.4 120.4 293.7 132.6 294.0 121.6 294.3 120.4 294.6 123.7 294.9 127.6 295.2 133.8 295.5 137.7 295.8 128.7 296.1 140.0 296.4 135.2 296.7 123.3 297.0 117.7 297.3 119.7 297.6 121.5 297.9 129.4 298.2 115.1 298.5 119.7 298.8 139.8 299.1 124.2 299.4 114.5 299.7 125.2 300.0 119.5 300.3 121.3 300.7 126.4 301.0 127.1 301.3 144.6 301.6 124.8 301.9 109.6 302.2 111.0 302.5 124.3 302.8 116.1 303.1 127.8 303.4 123.0 303.7 128.0 304.0 113.7 304.3 111.3 304.6 131.7 304.9 118.9 305.2 130.1 305.5 143.3 305.8 129.6 306.1 118.4 306.4 116.9 306.7 118.6 307.0 128.2 307.3 137.3 307.6 136.7 307.9 122.1 308.2 113.1 308.5 116.0 308.8 123.9 309.1 109.6 309.4 123.3 309.7 129.6 310.0 134.0 310.3 123.3 310.7 112.7 311.0 118.0 311.3 114.7 311.6 108.6 311.9 113.4 312.2 110.8 312.5 132.8 312.8 132.5 313.1 133.3 313.4 111.7 313.7 132.5 314.0 124.9 314.3 130.7 314.6 119.9 314.9 127.5 315.2 114.4 315.5 120.3 315.8 121.9 316.1 114.9 316.4 122.0 316.7 120.5 317.0 121.3 317.3 129.4 317.6 136.1 317.9 128.3 318.2 135.8 318.5 136.6 318.8 135.2 319.1 140.5 319.4 121.3 319.7 134.1 320.0 113.2 320.3 126.3 320.7 125.8 321.0 133.8 321.3 138.0 321.6 136.2 321.9 122.9 322.2 116.2 322.5 124.3 322.8 131.2 323.1 124.7 323.4 133.1 323.7 134.4 324.0 134.0 324.3 125.5 324.6 136.2 324.9 116.7 325.2 141.6 325.5 136.3 325.8 123.4 326.1 130.1 326.4 135.9 326.7 131.2 327.0 122.9 327.3 131.5 327.6 135.2 327.9 123.8 328.2 123.5 328.5 118.6 328.8 128.9 329.1 131.6 329.4 143.2 329.7 129.4 330.0 139.8 330.3 133.1 330.7 134.2 331.0 124.5 331.3 129.7 331.6 127.9 331.9 130.2 332.2 133.0 332.5 136.2 332.8 139.7 333.1 135.3 333.4 128.0 333.7 138.4 334.0 135.8 334.3 130.4 334.6 141.9 334.9 138.7 335.2 140.7 335.5 125.5 335.8 127.5 336.1 145.9 336.4 142.5 336.7 141.3 337.0 133.2 337.3 134.3 337.6 138.2 337.9 154.1 338.2 136.2 338.5 125.3 338.8 128.0 339.1 131.4 339.4 139.5 339.7 142.2 340.0 139.8 340.3 134.4 340.7 132.7 341.0 138.7 341.3 130.4 341.6 135.1 341.9 136.4 342.2 137.4 342.5 151.5 342.8 143.4 343.1 147.7 343.4 154.2 343.7 149.5 344.0 144.7 344.3 134.9 344.6 150.6 344.9 126.3 345.2 128.1 345.5 145.2 345.8 134.8 346.1 133.2 346.4 136.0 346.7 134.1 347.0 127.2 347.3 140.6 347.6 147.4 347.9 151.8 348.2 148.5 348.5 145.1 348.8 143.3 349.1 154.4 349.4 156.0 349.7 148.5 350.0 151.0 350.3 142.4 350.7 150.6 351.0 143.5 351.3 147.3 351.6 148.3 351.9 132.9 352.2 149.6 352.5 151.2 352.8 147.1 353.1 146.3 353.4 150.3 353.7 151.5 354.0 156.1 354.3 156.1 354.6 159.3 354.9 158.3 355.2 140.7 355.5 144.0 355.8 155.0 356.1 158.6 356.4 136.0 356.7 148.9 357.0 150.0 357.3 149.9 357.6 159.5 357.9 153.6 358.2 148.3 358.5 150.2 358.8 158.1 359.1 169.3 359.4 160.1 359.7 167.4 360.0 160.1 360.3 157.8 360.7 154.4 361.0 146.3 361.3 159.1 361.6 166.8 361.9 160.9 362.2 172.7 362.5 167.3 362.8 164.5 363.1 155.7 363.4 168.5 363.7 166.9 364.0 165.0 364.3 164.1 364.6 160.7 364.9 159.5 365.2 164.7 365.5 159.3 365.8 161.8 366.1 178.0 366.4 168.7 366.7 164.5 367.0 170.7 367.3 161.1 367.6 172.9 367.9 168.3 368.2 159.5 368.5 162.9 368.8 160.8 369.1 168.9 369.4 164.6 369.7 184.4 370.0 156.2 370.3 160.5 370.7 168.3 371.0 170.7 371.3 168.8 371.6 172.4 371.9 173.9 372.2 169.6 372.5 169.4 372.8 173.7 373.1 170.6 373.4 152.4 373.7 152.2 374.0 158.0 374.3 168.4 374.6 168.2 374.9 146.0 375.2 175.3 375.5 173.7 375.8 163.8 376.1 171.5 376.4 160.5 376.7 157.1 377.0 161.1 377.3 151.1 377.6 172.2 377.9 183.9 378.2 172.2 378.5 166.7 378.8 154.2 379.1 155.0 379.4 162.6 379.7 158.2 380.0 155.5 380.3 162.1 380.7 163.6 381.0 181.7 381.3 161.6 381.6 153.5 381.9 170.1 382.2 171.9 382.5 163.6 382.8 155.8 383.1 155.0 383.4 165.1 383.7 167.3 384.0 154.4 384.3 171.7 384.6 145.8 384.9 171.4 385.2 166.6 385.5 159.0 385.8 164.0 386.1 164.4 386.4 158.1 386.7 171.1 387.0 154.2 387.3 159.9 387.6 162.6 387.9 156.5 388.2 158.9 388.5 167.4 388.8 155.2 389.1 151.0 389.4 153.9 389.7 160.0 390.0 165.7 390.3 164.4 390.7 153.4 391.0 168.6 391.3 164.1 391.6 166.2 391.9 150.4 392.2 144.6 392.5 148.6 392.8 151.3 393.1 154.8 393.4 149.3 393.7 147.4 394.0 155.8 394.3 148.0 394.6 145.7 394.9 152.0 395.2 159.0 395.5 158.5 395.8 166.3 396.1 161.1 396.4 161.6 396.7 162.4 397.0 157.9 397.3 147.9 397.6 150.7 397.9 152.0 398.2 148.3 398.5 156.2 398.8 151.7 399.1 144.2 399.4 150.4 399.7 146.4 400.0 154.3 400.3 138.2 400.7 138.1 401.0 148.5 401.3 153.7 401.6 154.6 401.9 163.6 402.2 156.2 402.5 152.1 402.8 158.8 403.1 154.3 403.4 157.2 403.7 163.5 404.0 157.2 404.3 155.4 404.6 151.9 404.9 156.7 405.2 159.9 405.5 163.6 405.8 162.8 406.1 170.6 406.4 162.4 406.7 159.5 407.0 156.1 407.3 164.4 407.6 160.2 407.9 156.6 408.2 149.4 408.5 154.0 408.8 161.6 409.1 143.8 409.4 146.4 409.7 148.6 410.0 150.1 410.3 156.0 410.7 155.8 411.0 158.9 411.3 161.2 411.6 168.5 411.9 161.8 412.2 163.1 412.5 160.4 412.8 162.0 413.1 159.8 413.4 154.4 413.7 161.9 414.0 168.8 414.3 159.4 414.6 161.7 414.9 162.7 415.2 150.9 415.5 171.0 415.8 175.5 416.1 175.5 416.4 174.6 416.7 163.6 417.0 150.4 417.3 160.2 417.6 164.7 417.9 164.3 418.2 163.4 418.5 171.7 418.8 173.6 419.1 169.7 419.4 165.7 419.7 180.9 420.0 177.9 420.3 122.0 420.7 162.7 421.0 157.9 421.3 149.2 421.6 161.2 421.9 168.8 422.2 168.8 422.5 189.4 422.8 172.1 423.1 176.5 423.4 126.0 423.7 161.3 424.0 173.5 424.3 174.4 424.6 176.1 424.9 168.1 425.2 180.2 425.5 176.5 425.8 173.2 426.1 168.5 426.4 173.3 426.7 175.0 427.0 174.1 427.3 184.2 427.5 185.4 427.8 178.9 428.1 173.4 428.4 172.5 428.7 177.0 428.9 160.3 429.2 172.8 429.5 174.2 429.8 188.8 430.0 184.1 430.3 179.1 430.6 178.9 430.8 175.0 431.1 173.5 431.4 176.9 431.6 166.9 431.9 199.7 432.1 168.8" fill="none" stroke="#e0581c" stroke-width="0.95" stroke-linejoin="round"/><path d="M432.1 168.8L432.4 172.3 432.6 173.7 432.9 182.7 433.1 170.6 433.4 193.6 433.6 183.4 433.9 181.5 434.1 182.6 434.4 183.9 434.6 190.3 434.9 190.1 435.1 186.2 435.3 196.4 435.6 194.1 435.8 199.0 436.1 206.5 436.3 190.5 436.5 189.6 436.8 188.5 437.0 181.2 437.2 186.4 437.4 178.4 437.7 186.6 437.9 197.5 438.1 198.1 438.4 193.5 438.6 188.7 438.8 193.4 439.0 184.6 439.2 180.7 439.5 179.0 439.7 188.5 439.9 181.9 440.1 191.0 440.3 196.7 440.6 196.9 440.8 192.5 441.0 194.2 441.2 185.4 441.4 190.6 441.6 172.8 441.9 203.8 442.1 187.0 442.3 190.1 442.5 189.7 442.7 197.0 442.9 196.0 443.2 193.5 443.4 189.6 443.6 193.0 443.8 192.6 444.0 193.8 444.3 193.1 444.5 186.7 444.7 194.1 444.9 197.1 445.1 196.9 445.3 197.2 445.6 203.0 445.8 204.4 446.0 208.3 446.2 204.3 446.4 203.8 446.6 199.2 446.9 191.3 447.1 188.0 447.3 196.7 447.5 197.7 447.7 200.5 447.9 185.1 448.2 191.9 448.4 181.6 448.6 195.0 448.8 195.3 449.0 186.6 449.3 193.4 449.5 203.9 449.7 193.7 449.9 200.1 450.1 195.1 450.3 198.7 450.6 207.4 450.8 202.7 451.0 203.0 451.2 204.9 451.4 201.9 451.6 208.4 451.9 192.0 452.1 196.2 452.3 188.6 452.5 188.4 452.7 197.2 452.9 193.5 453.2 197.1 453.4 208.7 453.6 208.2 453.8 226.8 454.0 211.2 454.3 206.9 454.5 190.8 454.7 186.0 454.9 186.9 455.1 206.1 455.3 205.8 455.6 193.0 455.8 193.1 456.0 205.9 456.2 202.1 456.4 195.0 456.6 190.4 456.9 194.6 457.1 199.2 457.3 192.5 457.5 200.6 457.7 195.5 457.9 220.6 458.2 219.1 458.4 215.0 458.6 213.0 458.8 214.2 459.0 215.9 459.3 213.4 459.5 204.7 459.7 209.1 459.9 200.8 460.1 205.0 460.3 211.0 460.6 204.6 460.8 211.3 461.0 208.4 461.2 224.2 461.4 213.7 461.6 215.3 461.9 204.2 462.1 214.5 462.3 214.9 462.5 211.8 462.7 213.2 462.9 214.0 463.2 218.2 463.4 222.4 463.6 196.3 463.8 223.0 464.0 217.1 464.3 209.8 464.5 210.3 464.7 209.3 464.9 211.7 465.1 214.3 465.3 216.2 465.6 222.6 465.8 222.4 466.0 215.7 466.2 219.1 466.4 216.9 466.6 221.0 466.9 225.3 467.1 219.1 467.3 222.2 467.5 226.8 467.7 222.8 467.9 213.1 468.2 215.4 468.4 211.8 468.6 221.6 468.8 220.6 469.0 221.0 469.3 229.6 469.5 226.9 469.7 222.5 469.9 203.4 470.1 212.9 470.3 213.0 470.6 215.9 470.8 211.0 471.0 220.0 471.2 226.8 471.4 220.0 471.6 211.3 471.9 217.3 472.1 217.4 472.3 224.6 472.5 221.1 472.7 216.0 472.9 210.6 473.2 216.7 473.4 205.4 473.6 208.6 473.8 220.2 474.0 219.3 474.3 219.7 474.5 218.7 474.7 199.1 474.9 215.2 475.1 221.3 475.3 223.8 475.6 215.8 475.8 219.4 476.0 225.6 476.2 223.9 476.4 230.6 476.6 224.4 476.9 212.8 477.1 218.1 477.3 211.8 477.5 225.0 477.7 225.5 477.9 231.5 478.2 228.4 478.4 225.0 478.6 219.8 478.8 219.7 479.0 228.5 479.3 235.0 479.5 228.5 479.7 225.4 479.9 204.5 480.1 223.5 480.3 223.1 480.6 219.8 480.8 226.8 481.0 217.9 481.2 221.9 481.4 223.5 481.6 227.0 481.9 223.6 482.1 218.0 482.3 221.0 482.5 216.9 482.7 219.3 482.9 211.6 483.2 235.6 483.4 215.8 483.6 214.5 483.8 227.9 484.0 224.5 484.3 216.8 484.5 225.5 484.7 237.0 484.9 229.4 485.1 231.6 485.3 220.0 485.6 220.3 485.8 225.0 486.0 226.6 486.2 222.4 486.4 221.6 486.6 221.2 486.9 220.3 487.1 221.4 487.3 221.8 487.5 227.8 487.7 219.4 487.9 227.4 488.2 237.4 488.4 232.1 488.6 226.7 488.8 222.4 489.0 223.3 489.3 219.8 489.5 227.0 489.7 227.6 489.9 232.8 490.1 232.0 490.3 234.8 490.6 240.0 490.8 238.8 491.0 248.7 491.2 243.2 491.4 232.4 491.6 234.9 491.9 236.7 492.1 233.8 492.3 236.5 492.5 236.7 492.7 241.1 492.9 234.6 493.2 227.9 493.4 251.6 493.6 220.3 493.8 213.4 494.0 220.1 494.3 225.5 494.5 226.4 494.7 217.2 494.9 245.5 495.1 225.0 495.3 242.0 495.6 228.3 495.8 244.5 496.0 234.9 496.2 220.7 496.4 235.9 496.6 234.0 496.9 237.6 497.1 238.2 497.3 239.3 497.5 243.0 497.7 251.7 497.9 244.3 498.2 239.3 498.4 243.9 498.6 243.3 498.8 226.4 499.0 237.5 499.3 236.8 499.5 237.7 499.7 231.4 499.9 248.2 500.1 246.4 500.3 240.7 500.6 239.0 500.8 240.0 501.0 240.9 501.2 246.5 501.4 246.4 501.6 241.6 501.9 241.6 502.1 246.6 502.3 239.6 502.5 240.6 502.7 248.8 502.9 246.6 503.2 254.1 503.4 242.5 503.6 242.5 503.8 240.7 504.0 240.0 504.3 249.1 504.5 254.2 504.7 250.9 504.9 248.7 505.1 231.1 505.3 261.6 505.6 242.2 505.8 246.6 506.0 237.5 506.2 237.2 506.4 242.2 506.6 241.3 506.9 251.0 507.1 248.8 507.3 249.3 507.5 250.5 507.7 261.2 507.9 257.2 508.2 259.3 508.4 258.1 508.6 261.6 508.8 256.6 509.0 254.4 509.3 261.2 509.5 257.6 509.7 246.7 509.9 244.9 510.1 249.0 510.3 255.8 510.6 251.3 510.8 262.5 511.0 260.6 511.2 256.3 511.4 249.7 511.6 258.2 511.9 260.9 512.1 252.1 512.3 263.0 512.5 266.4 512.7 269.1 512.9 261.9 513.2 264.9 513.4 249.5 513.6 258.0 513.8 256.5 514.0 257.9 514.3 261.5 514.5 256.6 514.7 257.9 514.9 254.0 515.1 253.9 515.3 245.8 515.6 259.8 515.8 267.6 516.0 258.2 516.2 251.6 516.4 257.0 516.6 262.4 516.9 263.6 517.1 256.3 517.3 260.4 517.5 248.8 517.7 258.6 517.9 260.8 518.2 260.1 518.4 264.8 518.6 261.3 518.8 271.4 519.0 267.3 519.3 259.2 519.5 268.1 519.7 270.7 519.9 268.5 520.1 266.4 520.3 267.7 520.6 253.3 520.8 267.0 521.0 271.0 521.2 254.1 521.4 268.7 521.6 262.0 521.9 267.2 522.1 270.4 522.3 265.5 522.5 268.9 522.7 258.1 522.9 264.1 523.2 265.4 523.4 270.9 523.6 269.3 523.8 274.7 524.0 281.5 524.3 274.2 524.5 276.1 524.7 286.4 524.9 279.2 525.1 279.4 525.3 272.4 525.6 273.3 525.8 266.1 526.0 273.9 526.2 274.3 526.4 256.6 526.6 249.3 526.9 273.6 527.1 280.4 527.3 255.5 527.5 277.8 527.7 281.1 527.9 275.3 528.2 269.7 528.4 271.0 528.6 267.9 528.8 280.2 529.0 261.9 529.3 270.1 529.5 267.1 529.7 284.9 529.9 274.7 530.1 273.0 530.3 258.2 530.6 274.1 530.8 272.6 531.0 273.3 531.2 279.8 531.4 271.7 531.6 270.9 531.9 259.6 532.1 269.4 532.3 265.3 532.5 268.9 532.7 274.1 532.9 281.2 533.2 278.7 533.4 272.3 533.6 280.9 533.8 267.0 534.0 274.0 534.3 267.5 534.5 271.0 534.7 265.8 534.9 263.1 535.1 267.5 535.3 281.5 535.6 279.0 535.8 281.2 536.0 275.5 536.2 275.6 536.4 271.6 536.6 271.3 536.9 272.7 537.1 280.1 537.3 279.5 537.5 273.8 537.7 275.0 537.9 271.8 538.2 278.3 538.4 279.3 538.6 279.7 538.8 282.4 539.0 282.8 539.3 287.8 539.5 278.1 539.7 282.7 539.9 266.0 540.1 284.4 540.3 278.5 540.6 270.4 540.8 274.1 541.0 274.3 541.2 272.0 541.4 274.9 541.6 284.0 541.9 279.4 542.1 283.1 542.3 288.1 542.5 288.0 542.7 285.1 542.9 286.5 543.2 279.9 543.4 273.0 543.6 269.5 543.8 281.1 544.0 287.4 544.3 280.9 544.5 280.4 544.7 267.9 544.9 296.6 545.1 279.2 545.3 269.9 545.6 279.0 545.8 282.8 546.0 285.4 546.2 281.3 546.4 260.9 546.6 267.7 546.9 286.1 547.1 280.5 547.3 286.9 547.5 285.4 547.7 280.9 547.9 298.2 548.2 279.4 548.4 282.0 548.6 281.8 548.8 280.3 549.0 281.4 549.3 284.6 549.5 280.0 549.7 277.8 549.9 278.6 550.1 276.9 550.3 273.9 550.6 279.3 550.8 270.5 551.0 275.8 551.2 275.5 551.4 278.5 551.6 281.0 551.9 280.6 552.1 278.9 552.3 285.2 552.5 277.6 552.7 271.3 552.9 274.0 553.2 279.7 553.4 287.3 553.6 291.4 553.8 283.8 554.0 285.1 554.3 287.9 554.5 277.9 554.7 284.5 554.9 281.3 555.1 277.1 555.3 279.0 555.6 280.1 555.8 266.5 556.0 272.4 556.2 275.1 556.4 271.1 556.6 274.1 556.9 272.1 557.1 269.1 557.3 271.4 557.5 262.4 557.7 271.6 557.9 275.3 558.2 275.3 558.4 276.4 558.6 271.5 558.8 269.0 559.0 261.8 559.3 259.2 559.5 263.3 559.7 273.2 559.9 258.7 560.1 278.1 560.3 281.4 560.6 267.7 560.8 266.4 561.0 263.2 561.2 260.1 561.4 267.8 561.6 272.5 561.9 265.9 562.1 273.7 562.3 275.4 562.5 268.4 562.7 270.5 562.9 264.4 563.2 267.3 563.4 270.8 563.6 259.6 563.8 272.8 564.0 260.9 564.3 266.0 564.5 259.3 564.7 271.2 564.9 264.2 565.1 263.7 565.3 282.2 565.6 281.2 565.8 276.4 566.0 266.5 566.2 268.4 566.4 258.6 566.6 278.3 566.9 285.0 567.1 270.1 567.3 265.5 567.5 269.4 567.7 271.2 567.9 262.2 568.2 265.4 568.4 264.8 568.6 272.2 568.8 260.8 569.0 265.5 569.3 263.8 569.5 274.6 569.7 255.7 569.9 269.8 570.1 264.7 570.3 266.6 570.6 256.6 570.8 254.0 571.0 258.4 571.2 261.6 571.4 249.4 571.6 254.3 571.9 257.0 572.1 259.3 572.3 264.4 572.5 264.2 572.7 261.0 572.9 270.2 573.2 250.4 573.4 257.7 573.6 267.3 573.8 263.0 574.0 266.1 574.3 256.4 574.5 263.6 574.7 260.2 574.9 260.5 575.1 263.4 575.3 264.8 575.6 262.6 575.8 262.4 576.0 261.9 576.2 256.3 576.4 256.3 576.6 257.8 576.9 266.7 577.1 255.0 577.3 257.5 577.5 262.9 577.7 263.1 577.9 254.7 578.2 250.0 578.4 251.9 578.6 256.8 578.8 261.1 579.0 265.0 579.3 257.4 579.5 254.7 579.7 251.4 579.9 260.7 580.1 266.7 580.3 259.0 580.6 252.8 580.8 258.3 581.0 249.2 581.2 270.1 581.4 253.4 581.6 264.4 581.9 256.8 582.1 246.9 582.3 264.0 582.5 252.5 582.7 246.6 582.9 263.6 583.2 263.7 583.4 256.4 583.6 258.5 583.8 261.3 584.0 256.2 584.3 239.8 584.5 251.6 584.7 262.4 584.9 259.9 585.1 257.9 585.3 265.5 585.6 252.8 585.8 253.4 586.0 252.1 586.2 246.7 586.4 255.3 586.6 248.3 586.9 247.7 587.1 262.5 587.3 255.0 587.5 262.9 587.7 264.5 587.9 259.4 588.2 264.4 588.4 255.2 588.6 250.4 588.8 250.8 589.0 251.4 589.3 256.0 589.5 265.2 589.7 268.5 589.9 252.8 590.1 253.9 590.3 256.0 590.6 253.9 590.8 262.0 591.0 256.0 591.2 251.2 591.4 263.3 591.6 266.2 591.9 260.1 592.1 253.7 592.3 257.0 592.5 261.3 592.7 267.3 592.9 270.1 593.2 247.9 593.4 260.3 593.6 258.7 593.8 259.6 594.0 257.5 594.3 257.4 594.5 258.6 594.7 260.6 594.9 251.6 595.1 255.7 595.3 263.1 595.6 264.2 595.8 266.0 596.0 266.9 596.2 243.8 596.4 268.7 596.6 264.3 596.9 256.5 597.1 266.5 597.3 265.4 597.5 254.5 597.7 263.9 597.9 266.9 598.2 257.3 598.4 262.9 598.6 262.5 598.8 264.5 599.0 260.4 599.3 270.6 599.5 260.8 599.7 256.8 599.9 258.6 600.1 261.3 600.3 259.6 600.6 269.5 600.8 260.3 601.0 274.1 601.2 259.9 601.4 264.6 601.6 272.9 601.9 278.9 602.1 268.1 602.3 257.9 602.5 279.3 602.7 259.6 602.9 266.1 603.2 260.2 603.4 267.9 603.6 261.1 603.8 267.6 604.0 278.8 604.3 273.8 604.5 274.3 604.7 269.5 604.9 265.4 605.1 268.3 605.3 269.9 605.6 252.9 605.8 257.6 606.0 274.0 606.2 272.2 606.4 269.7 606.6 265.9 606.9 264.7 607.1 265.6 607.3 250.3 607.5 270.2 607.7 270.4 607.9 264.6 608.2 273.4 608.4 269.2 608.6 275.6 608.8 267.7 609.0 272.3 609.3 261.5 609.5 270.5 609.7 261.8 609.9 266.5 610.1 270.3 610.3 261.4 610.6 267.3 610.8 266.5 611.0 269.2 611.2 274.6 611.4 271.7 611.6 277.1 611.9 268.6 612.1 265.0 612.3 273.5 612.5 266.5 612.7 271.2 612.9 266.8 613.2 269.3 613.4 272.7 613.6 268.2 613.8 258.1 614.0 262.8 614.3 272.8 614.5 267.8 614.7 265.8 614.9 269.5 615.1 269.5 615.3 267.3 615.6 272.3 615.8 273.0 616.0 269.4 616.2 269.2 616.4 278.1 616.6 275.4 616.9 271.5 617.1 257.9 617.3 275.9 617.5 284.1 617.7 271.7 617.9 275.5 618.2 272.0 618.4 275.2 618.6 272.2 618.8 266.7 619.0 269.7 619.3 270.9 619.5 275.3 619.7 285.0 619.9 274.1 620.1 271.3 620.3 272.3 620.6 282.6 620.8 286.1 621.0 287.1 621.2 283.3 621.4 279.4 621.6 272.2 621.9 276.1 622.1 278.7 622.3 276.0 622.5 274.2 622.7 271.0 622.9 277.9 623.2 277.8 623.4 283.0 623.6 277.2 623.8 275.5 624.0 283.8 624.3 281.4 624.5 272.6 624.7 273.6 624.9 272.7 625.1 276.6 625.3 269.8 625.6 299.9 625.8 283.9 626.0 281.6 626.2 291.9 626.4 280.9 626.6 279.1 626.9 286.4 627.1 278.8 627.3 296.5 627.5 281.1 627.7 283.8 627.9 278.7 628.2 265.7 628.4 281.0 628.6 275.6 628.8 283.9 629.0 285.2 629.3 287.7 629.5 289.7 629.7 282.9 629.9 283.7 630.1 283.9 630.3 290.8 630.6 287.3 630.8 282.6 631.0 287.0 631.2 295.7 631.4 290.7 631.6 295.3 631.9 295.2 632.1 286.7 632.3 292.1 632.5 285.5 632.7 285.8 632.9 292.6 633.2 275.3 633.4 299.2 633.6 297.1 633.8 306.6 634.0 296.8 634.3 293.1 634.5 297.9 634.7 282.6 634.9 287.7 635.1 285.7 635.3 289.1 635.6 288.5 635.8 300.8 636.0 298.7 636.2 295.0 636.4 298.8 636.6 284.0 636.9 297.8 637.1 286.3 637.3 276.9 637.5 304.8 637.7 294.1 637.9 291.8 638.2 284.8 638.4 284.5 638.6 295.0 638.8 298.5 639.0 296.9 639.3 300.7 639.5 287.7 639.7 295.7 639.9 297.5 640.1 294.6 640.3 288.4 640.6 296.5 640.8 302.9 641.0 309.2 641.2 309.0 641.4 304.7 641.6 300.9 641.9 303.5 642.1 306.7 642.3 294.2 642.5 304.3 642.7 308.2 642.9 296.9 643.2 307.5 643.4 321.8 643.6 305.8 643.8 311.3 644.0 308.7 644.3 306.4 644.5 312.8 644.7 315.1 644.9 312.3 645.1 321.1 645.3 318.7 645.6 307.0 645.8 319.5 646.0 317.5 646.2 324.4 646.4 314.8 646.6 312.2 646.9 313.9 647.1 307.8 647.3 322.8 647.5 317.5 647.7 336.2 647.9 305.7 648.2 320.2 648.4 331.6 648.6 337.9 648.8 335.4 649.0 330.4 649.3 327.8 649.5 337.5 649.7 324.4 649.9 323.5 650.1 326.7 650.3 328.9 650.6 334.3 650.8 332.0 651.0 332.6 651.2 334.0 651.4 352.6 651.6 333.2 651.9 327.7 652.1 327.3 652.3 332.0 652.5 332.4 652.7 337.6 652.9 337.1 653.2 338.4 653.4 342.6 653.6 331.6 653.8 331.2 654.0 335.3 654.3 347.2 654.5 341.2 654.7 350.1 654.9 349.9 655.1 346.0 655.3 346.5 655.6 347.9 655.8 344.1 656.0 352.1 656.2 363.3 656.4 348.3 656.6 345.0 656.9 349.9 657.1 352.0 657.3 354.5 657.5 362.6 657.7 358.1 657.9 351.0 658.2 348.8 658.4 345.6 658.6 346.2 658.8 345.4 659.0 356.1 659.3 371.9 659.5 359.1 659.7 354.7 659.9 350.1 660.1 349.0 660.3 355.9 660.6 358.4 660.8 357.1 661.0 364.3 661.2 356.2 661.4 355.6 661.6 363.5 661.9 357.2 662.1 357.9 662.3 365.0 662.5 368.4 662.7 370.0 662.9 371.5 663.2 369.4 663.4 370.3 663.6 370.9 663.8 370.7 664.0 375.9 664.3 374.0 664.5 377.8 664.7 375.7 664.9 379.8 665.1 366.7 665.3 382.9 665.6 375.7 665.8 376.2 666.0 376.3 666.2 388.0 666.4 377.1 666.6 379.0 666.9 380.5 667.1 393.9 667.3 394.6 667.5 385.0" fill="none" stroke="#e0581c" stroke-width="0.8" stroke-linejoin="round"/>
<line x1="667.6" y1="34.3" x2="667.6" y2="438.8" stroke="#b48ad0" stroke-width="1.7" stroke-dasharray="5.5 2.2 1 1.9"/>
<rect x="63.0" y="34.3" width="697.5" height="404.5" fill="none" stroke="#8e8e8e" stroke-width="1.5"/>
<g stroke="#8e8e8e" stroke-width="1.3"><line x1="122.3" y1="438.8" x2="122.3" y2="432.3"/><line x1="122.3" y1="34.3" x2="122.3" y2="40.8"/><line x1="230.4" y1="438.8" x2="230.4" y2="432.3"/><line x1="230.4" y1="34.3" x2="230.4" y2="40.8"/><line x1="338.5" y1="438.8" x2="338.5" y2="432.3"/><line x1="338.5" y1="34.3" x2="338.5" y2="40.8"/><line x1="446.7" y1="438.8" x2="446.7" y2="432.3"/><line x1="446.7" y1="34.3" x2="446.7" y2="40.8"/><line x1="554.8" y1="438.8" x2="554.8" y2="432.3"/><line x1="554.8" y1="34.3" x2="554.8" y2="40.8"/><line x1="662.9" y1="438.8" x2="662.9" y2="432.3"/><line x1="662.9" y1="34.3" x2="662.9" y2="40.8"/><line x1="63.0" y1="425.0" x2="69.5" y2="425.0"/><line x1="760.5" y1="425.0" x2="754.0" y2="425.0"/><line x1="63.0" y1="385.2" x2="69.5" y2="385.2"/><line x1="760.5" y1="385.2" x2="754.0" y2="385.2"/><line x1="63.0" y1="345.5" x2="69.5" y2="345.5"/><line x1="760.5" y1="345.5" x2="754.0" y2="345.5"/><line x1="63.0" y1="305.7" x2="69.5" y2="305.7"/><line x1="760.5" y1="305.7" x2="754.0" y2="305.7"/><line x1="63.0" y1="266.0" x2="69.5" y2="266.0"/><line x1="760.5" y1="266.0" x2="754.0" y2="266.0"/><line x1="63.0" y1="226.2" x2="69.5" y2="226.2"/><line x1="760.5" y1="226.2" x2="754.0" y2="226.2"/><line x1="63.0" y1="186.5" x2="69.5" y2="186.5"/><line x1="760.5" y1="186.5" x2="754.0" y2="186.5"/><line x1="63.0" y1="146.7" x2="69.5" y2="146.7"/><line x1="760.5" y1="146.7" x2="754.0" y2="146.7"/><line x1="63.0" y1="107.0" x2="69.5" y2="107.0"/><line x1="760.5" y1="107.0" x2="754.0" y2="107.0"/><line x1="63.0" y1="67.2" x2="69.5" y2="67.2"/><line x1="760.5" y1="67.2" x2="754.0" y2="67.2"/></g>
<g font-size="13.6" fill="#262626"><text transform="translate(58 431.1) scale(0.97 1.12)" text-anchor="end">37</text><text transform="translate(58 391.3) scale(0.97 1.12)" text-anchor="end">37.5</text><text transform="translate(58 351.6) scale(0.97 1.12)" text-anchor="end">38</text><text transform="translate(58 311.8) scale(0.97 1.12)" text-anchor="end">38.5</text><text transform="translate(58 272.1) scale(0.97 1.12)" text-anchor="end">39</text><text transform="translate(58 232.3) scale(0.97 1.12)" text-anchor="end">39.5</text><text transform="translate(58 192.6) scale(0.97 1.12)" text-anchor="end">40</text><text transform="translate(58 152.8) scale(0.97 1.12)" text-anchor="end">40.5</text><text transform="translate(58 113.1) scale(0.97 1.12)" text-anchor="end">41</text><text transform="translate(58 73.3) scale(0.97 1.12)" text-anchor="end">41.5</text><text transform="translate(122.3 459.9) scale(0.97 1.13)" text-anchor="middle">0</text><text transform="translate(230.4 459.9) scale(0.97 1.13)" text-anchor="middle">0.01</text><text transform="translate(338.5 459.9) scale(0.97 1.13)" text-anchor="middle">0.02</text><text transform="translate(446.7 459.9) scale(0.97 1.13)" text-anchor="middle">0.03</text><text transform="translate(554.8 459.9) scale(0.97 1.13)" text-anchor="middle">0.04</text><text transform="translate(662.9 459.9) scale(0.97 1.13)" text-anchor="middle">0.05</text></g>
<text transform="translate(411.8 481.6) scale(1 1.08)" font-size="15" fill="#262626" text-anchor="middle">Time (s)</text>
<text transform="translate(26.3 236.8) rotate(-90) scale(1.165 1)" font-size="14.5" fill="#262626" text-anchor="middle">Angular velocity (Hz)</text>
<text transform="translate(411.6 27.9) scale(0.99 1.1)" font-size="15" font-weight="bold" fill="#111" text-anchor="middle">Fire Steady</text>
<g font-size="7.6" text-anchor="end" stroke-width="0.22"><text transform="translate(758 70.7) scale(1 1.08)" fill="#e03c4a" stroke="#e03c4a">c180 Max</text><text transform="translate(758 88.9) scale(1 1.08)" fill="#3c3cd8" stroke="#3c3cd8">c179 Max</text><text transform="translate(758 370.5) scale(1 1.08)" fill="#3c3cd8" stroke="#3c3cd8">c179 Start</text><text transform="translate(758 382) scale(1 1.08)" fill="#e03c4a" stroke="#e03c4a">c180 End</text><text transform="translate(758 393) scale(1 1.08)" fill="#e03c4a" stroke="#e03c4a">c179 End / c180 Start</text></g>
<g font-size="8.2" stroke-width="0.22"><text transform="translate(678 83.5) rotate(-90)" fill="#e03c4a" stroke="#e03c4a">c180 End</text><text transform="translate(678 128) rotate(-90)" fill="#3c3cd8" stroke="#3c3cd8">c179 End</text></g>
<rect x="594" y="94.4" width="54.8" height="36" fill="#fff" stroke="#707070" stroke-width="1"/>
<line x1="596.4" y1="104.4" x2="618.8" y2="104.4" stroke="#6aa6c4" stroke-width="1.3"/>
<line x1="596.4" y1="121.1" x2="618.8" y2="121.1" stroke="#e8a07c" stroke-width="1.3"/>
<text x="620" y="109.4" font-size="12.5" fill="#111">c179</text>
<text x="620" y="127.2" font-size="12.5" fill="#111">c180</text>
<g><rect x="64.7" y="342.2" width="57.3" height="29.5" rx="1.5" fill="#f8f8fb" stroke="#bdbdbd" stroke-width="0.9"/>
<text transform="translate(68.30 355.03) scale(1 1.1)" font-size="7.5"><tspan fill="#555">X </tspan><tspan fill="#2b96e0" font-weight="bold">2.65625e-05</tspan></text>
<text transform="translate(68.30 365.06) scale(1 1.1)" font-size="7.5"><tspan fill="#555">Y </tspan><tspan fill="#2b96e0" font-weight="bold">37.6471</tspan></text></g>
<g><rect x="197.3" y="92.6" width="50.4" height="30" rx="1.5" fill="#f8f8fb" stroke="#bdbdbd" stroke-width="0.9"/>
<text transform="translate(200.90 105.65) scale(1 1.1)" font-size="7.5"><tspan fill="#555">X </tspan><tspan fill="#2b96e0" font-weight="bold">0.0116535</tspan></text>
<text transform="translate(200.90 115.85) scale(1 1.1)" font-size="7.5"><tspan fill="#555">Y </tspan><tspan fill="#2b96e0" font-weight="bold">41.1836</tspan></text></g>
<g><rect x="259.9" y="43.3" width="49.6" height="30.3" rx="1.5" fill="#f8f8fb" stroke="#bdbdbd" stroke-width="0.9"/>
<text transform="translate(263.50 56.48) scale(1 1.1)" font-size="7.5"><tspan fill="#555">X </tspan><tspan fill="#2b96e0" font-weight="bold">0.0126056</tspan></text>
<text transform="translate(263.50 66.78) scale(1 1.1)" font-size="7.5"><tspan fill="#555">Y </tspan><tspan fill="#2b96e0" font-weight="bold">41.4128</tspan></text></g>
<g><rect x="668.4" y="354.8" width="50.5" height="29.7" rx="1.5" fill="#f8f8fb" stroke="#bdbdbd" stroke-width="0.9"/>
<text transform="translate(672.00 367.72) scale(1 1.1)" font-size="7.5"><tspan fill="#555">X </tspan><tspan fill="#2b96e0" font-weight="bold">0.0504204</tspan></text>
<text transform="translate(672.00 377.82) scale(1 1.1)" font-size="7.5"><tspan fill="#555">Y </tspan><tspan fill="#2b96e0" font-weight="bold">37.4975</tspan></text></g>
<g><rect x="617.4" y="396.8" width="49.8" height="30.4" rx="1.5" fill="#f8f8fb" stroke="#bdbdbd" stroke-width="0.9"/>
<text transform="translate(621.00 410.02) scale(1 1.1)" font-size="7.5"><tspan fill="#555">X </tspan><tspan fill="#2b96e0" font-weight="bold">0.0505031</tspan></text>
<text transform="translate(621.00 420.36) scale(1 1.1)" font-size="7.5"><tspan fill="#555">Y </tspan><tspan fill="#2b96e0" font-weight="bold">37.3546</tspan></text></g>
<circle cx="122.3" cy="373.6" r="1.6" fill="#111"/>
<circle cx="248.1" cy="92.2" r="1.6" fill="#111"/>
<circle cx="258.4" cy="73.6" r="1.6" fill="#111"/>
<circle cx="667.5" cy="385" r="1.6" fill="#111"/>
<circle cx="667.8" cy="396.6" r="1.6" fill="#111"/>
<g><line x1="596.5" y1="172" x2="665.2" y2="172" stroke="#6e6e6e" stroke-width="1.4"/><path d="M668.20 172.00L661.70 175.60L664.30 172.00L661.70 168.40Z" fill="#111" stroke="none"/><line x1="687.7" y1="172" x2="673" y2="172" stroke="#6e6e6e" stroke-width="1.4"/><path d="M670.00 172.00L676.50 168.40L673.90 172.00L676.50 175.60Z" fill="#111" stroke="none"/><line x1="596" y1="214.2" x2="665" y2="214.2" stroke="#6e6e6e" stroke-width="1.4"/><path d="M668.00 214.20L661.50 217.80L664.10 214.20L661.50 210.60Z" fill="#111" stroke="none"/><line x1="190.4" y1="357.2" x2="190.4" y2="370" stroke="#111" stroke-width="1.2"/><path d="M190.40 373.00L187.00 367.20L190.40 369.52L193.80 367.20Z" fill="#111" stroke="none"/><line x1="190.4" y1="413.7" x2="190.4" y2="400.2" stroke="#111" stroke-width="1.2"/><path d="M190.40 397.20L193.80 403.00L190.40 400.68L187.00 403.00Z" fill="#111" stroke="none"/><line x1="298.8" y1="368.7" x2="298.8" y2="381.5" stroke="#111" stroke-width="1.2"/><path d="M298.80 384.50L295.40 378.70L298.80 381.02L302.20 378.70Z" fill="#111" stroke="none"/><line x1="298.8" y1="413.7" x2="298.8" y2="400" stroke="#111" stroke-width="1.2"/><path d="M298.80 397.00L302.20 402.80L298.80 400.48L295.40 402.80Z" fill="#111" stroke="none"/><line x1="416.3" y1="357" x2="416.3" y2="370.7" stroke="#111" stroke-width="1.2"/><path d="M416.30 373.70L412.90 367.90L416.30 370.22L419.70 367.90Z" fill="#111" stroke="none"/><line x1="416.3" y1="402" x2="416.3" y2="389" stroke="#111" stroke-width="1.2"/><path d="M416.30 386.00L419.70 391.80L416.30 389.48L412.90 391.80Z" fill="#111" stroke="none"/></g>
<g font-family="Liberation Serif, serif" fill="#222"><text x="612.5" y="166.6" font-size="20" font-style="italic">t<tspan font-style="normal" font-size="13">c180</tspan></text><text x="612.5" y="210.3" font-size="20" font-style="italic">t<tspan font-style="normal" font-size="13">c179</tspan></text><text x="676.5" y="166.8" font-size="15.5">-Δ<tspan font-style="italic">t</tspan></text><text x="174" y="424.7" font-size="16">Δ<tspan font-style="italic">n</tspan><tspan font-size="11">179</tspan></text><text x="284.5" y="424.7" font-size="16">Δ<tspan font-style="italic">n</tspan><tspan font-size="11">180</tspan></text><text x="403.5" y="413.6" font-size="16.5">Δ<tspan font-style="italic">n</tspan></text></g>
<ellipse cx="421.8" cy="175.3" rx="8.3" ry="65.6" fill="none" stroke="#d4475e" stroke-width="1.25"/>
<line x1="415.3" y1="221.8" x2="340" y2="284" stroke="#d84040" stroke-width="1.2"/>
<path d="M337.3 285.9 L349 272.6 L346 279.5 L353.2 279 Z" fill="#e03030"/>
<rect x="223.5" y="223.5" width="112.8" height="126.9" fill="#fff" stroke="#bc4a58" stroke-width="1.5"/>
<g stroke="#eeeeee" stroke-width="1"><line x1="296.8" y1="224.5" x2="296.8" y2="349"/><line x1="224.5" y1="266" x2="335.5" y2="266"/><line x1="224.5" y1="305.5" x2="335.5" y2="305.5"/></g>
<line x1="225" y1="230.5" x2="335" y2="230.5" stroke="#8a8ae0" stroke-width="0.8" stroke-dasharray="2 1.5"/>
<path d="M224.0 286.4L225.6 284.0 227.2 288.9 228.8 291.9 230.4 295.1 232.0 290.5 233.7 287.5 235.3 286.5 236.9 293.4 238.5 297.4 240.1 291.2 241.7 284.5 243.3 285.7 244.9 297.2 246.5 290.9 248.1 282.2 249.7 289.6 251.3 284.8 253.0 287.2 254.6 287.8 256.2 286.8 257.8 292.5 259.4 289.7 261.0 287.3 262.6 291.8 264.2 293.7 265.8 282.6 267.4 289.7 268.0 290.0 269.0 283.7 270.7 274.1 271.0 272.0 272.3 257.7 272.5 255.0 273.9 270.5 274.0 272.0 275.5 283.1 277.1 295.2 278.0 302.0 278.7 306.2 280.3 315.8 281.5 323.0 281.9 320.5 283.5 310.9 285.0 302.0 285.1 301.2 286.7 291.6 288.3 281.9 290.0 272.3 290.0 272.0 291.6 267.3 293.0 263.0 293.2 262.4 294.4 258.5 294.8 264.8 296.0 285.0 296.4 285.1 298.0 286.7 299.6 296.7 301.2 289.0 302.8 290.2 304.4 290.5 306.0 284.3 307.7 287.1 309.3 293.8 310.9 286.3 312.5 289.2 314.1 288.6 315.7 291.8 317.3 287.7 318.9 289.0 320.5 291.1 322.1 290.8 323.7 286.8 325.3 295.1 327.0 285.5 328.6 286.3 330.2 286.2 331.8 296.7 333.4 291.0 335.0 288.6" fill="none" stroke="#4a90c8" stroke-width="0.75" stroke-dasharray="2.2 1.4" opacity="0.9"/>
<path d="M224.0 279.4L225.6 284.1 227.2 275.5 228.8 286.0 230.4 288.1 232.0 281.0 233.7 284.9 235.3 284.1 236.9 281.2 238.5 279.1 240.1 273.9 241.7 289.3 243.3 282.8 244.9 294.4 246.5 286.7 248.1 284.3 249.7 280.0 251.3 289.3 253.0 280.7 254.6 290.1 256.2 281.2 257.8 283.8 259.4 276.1 261.0 293.5 262.6 282.6 264.2 281.3 265.8 286.6 267.4 281.9 268.0 283.0 269.0 273.5 270.3 262.0 270.7 258.3 271.4 250.5 272.3 259.5 272.5 262.0 273.9 272.0 275.5 283.8 277.0 295.0 277.1 295.4 278.7 302.8 280.3 310.2 281.9 317.6 282.1 318.5 283.5 309.4 285.1 299.0 286.7 288.7 287.0 287.0 288.3 277.7 290.0 266.6 291.5 256.0 291.6 255.4 292.6 246.0 293.2 252.6 294.0 262.0 294.8 269.0 296.0 280.0 296.4 280.0 298.0 278.0 299.6 279.9 301.2 277.6 302.8 282.0 304.4 282.4 306.0 274.2 307.7 291.6 309.3 281.9 310.9 278.9 312.5 277.2 314.1 280.2 315.7 281.7 317.3 284.3 318.9 281.8 320.5 284.1 322.1 274.8 323.7 278.7 325.3 277.7 327.0 283.1 328.6 284.6 330.2 276.0 331.8 282.0 333.4 286.1 335.0 287.1" fill="none" stroke="#e08058" stroke-width="0.75" stroke-dasharray="2.2 1.4" opacity="0.9"/>
<text x="234.5" y="315.7" font-family="Liberation Serif, serif" font-size="16.6" fill="#111">Detail</text>
<g><rect x="231.5" y="231.5" width="39.8" height="18.7" rx="1.5" fill="#fafafc" stroke="#d6d6d6" stroke-width="0.9"/>
<text transform="translate(233.50 239.30) scale(1 1.12)" font-size="6.1"><tspan fill="#555">X </tspan><tspan fill="#2b96e0" font-weight="bold">0.0276464</tspan></text>
<text transform="translate(233.50 247.40) scale(1 1.12)" font-size="6.1"><tspan fill="#555">Y </tspan><tspan fill="#2b96e0" font-weight="bold">40.8043</tspan></text></g>
<g><rect x="292.5" y="227.4" width="40.1" height="18.0" rx="1.5" fill="#fafafc" stroke="#d6d6d6" stroke-width="0.9"/>
<text transform="translate(294.50 235.20) scale(1 1.12)" font-size="6.1"><tspan fill="#555">X </tspan><tspan fill="#2b96e0" font-weight="bold">0.0279454</tspan></text>
<text transform="translate(294.50 243.30) scale(1 1.12)" font-size="6.1"><tspan fill="#555">Y </tspan><tspan fill="#2b96e0" font-weight="bold">40.8835</tspan></text></g>
<g><rect x="232.5" y="253.7" width="39.9" height="19.0" rx="1.5" fill="#fafafc" stroke="#d6d6d6" stroke-width="0.9"/>
<text transform="translate(234.50 261.50) scale(1 1.12)" font-size="6.1"><tspan fill="#555">X </tspan><tspan fill="#2b96e0" font-weight="bold">0.0276638</tspan></text>
<text transform="translate(234.50 269.60) scale(1 1.12)" font-size="6.1"><tspan fill="#555">Y </tspan><tspan fill="#2b96e0" font-weight="bold">40.7582</tspan></text></g>
<g><rect x="293.6" y="256.7" width="40.1" height="19.0" rx="1.5" fill="#fafafc" stroke="#d6d6d6" stroke-width="0.9"/>
<text transform="translate(295.60 264.50) scale(1 1.12)" font-size="6.1"><tspan fill="#555">X </tspan><tspan fill="#2b96e0" font-weight="bold">0.0279636</tspan></text>
<text transform="translate(295.60 272.60) scale(1 1.12)" font-size="6.1"><tspan fill="#555">Y </tspan><tspan fill="#2b96e0" font-weight="bold">40.6938</tspan></text></g>
<g><rect x="244.9" y="325.7" width="35.8" height="18.7" rx="1.5" fill="#fafafc" stroke="#d6d6d6" stroke-width="0.9"/>
<text transform="translate(246.90 333.50) scale(1 1.12)" font-size="6.1"><tspan fill="#555">X </tspan><tspan fill="#2b96e0" font-weight="bold">0.027789</tspan></text>
<text transform="translate(246.90 341.60) scale(1 1.12)" font-size="6.1"><tspan fill="#555">Y </tspan><tspan fill="#2b96e0" font-weight="bold">39.4265</tspan></text></g>
<g><rect x="282.3" y="319.1" width="39.6" height="18.7" rx="1.5" fill="#fafafc" stroke="#d6d6d6" stroke-width="0.9"/>
<text transform="translate(284.30 326.90) scale(1 1.12)" font-size="6.1"><tspan fill="#555">X </tspan><tspan fill="#2b96e0" font-weight="bold">0.0277963</tspan></text>
<text transform="translate(284.30 335.00) scale(1 1.12)" font-size="6.1"><tspan fill="#555">Y </tspan><tspan fill="#2b96e0" font-weight="bold">39.5486</tspan></text></g>
<rect x="13.3" y="485.8" width="2" height="1.2" fill="#777"/>
</svg>
</body></html>
